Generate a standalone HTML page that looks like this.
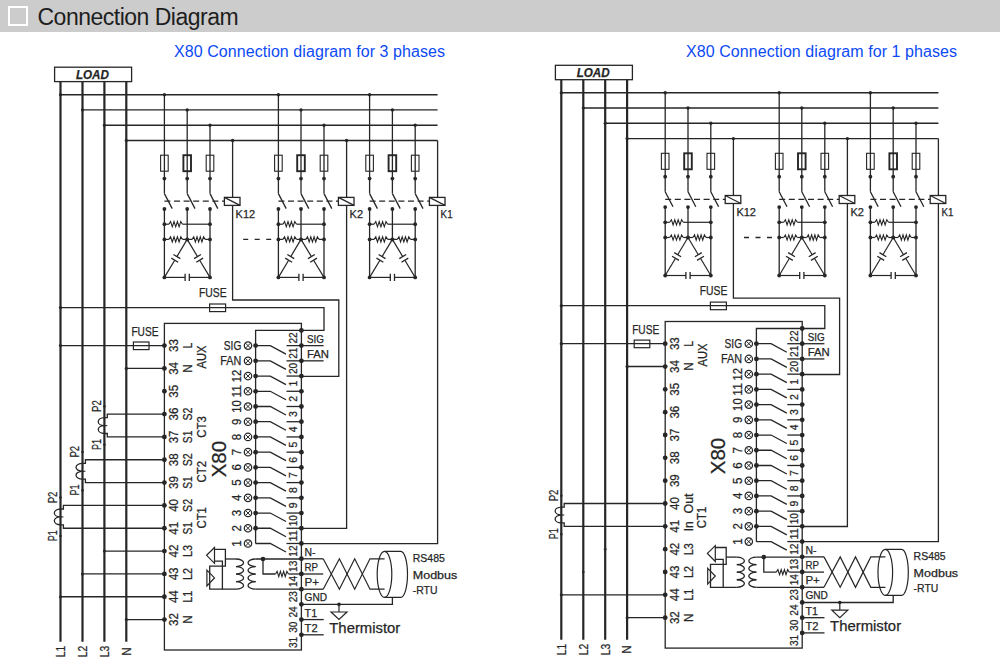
<!DOCTYPE html>
<html><head><meta charset="utf-8"><style>
html,body{margin:0;padding:0;background:#fff;width:1000px;height:670px;overflow:hidden}
.bar{position:absolute;left:0;top:0;width:1000px;height:32px;background:#cccccc;border-bottom:0}
.chk{position:absolute;left:8px;top:6px;width:16px;height:16px;border:2px solid #fff}
.ttl{position:absolute;left:37.5px;top:4px;font:23px "Liberation Sans",sans-serif;color:#1e1e1e;white-space:nowrap;letter-spacing:-0.5px}
.sub{position:absolute;top:43px;font:16px "Liberation Sans",sans-serif;color:#0d4af5;white-space:nowrap;letter-spacing:0.07px}
svg{position:absolute;left:0;top:0}
text{font-family:"Liberation Sans",sans-serif;stroke:#262626;stroke-width:0.25px}
</style></head><body>
<div class="bar"><div class="chk"></div><div class="ttl">Connection Diagram</div></div>
<div class="sub" style="left:174px">X80 Connection diagram for 3 phases</div>
<div class="sub" style="left:686px">X80 Connection diagram for 1 phases</div>
<svg width="1000" height="670" viewBox="0 0 1000 670">
<rect x="54.6" y="67.2" width="77" height="14.4" fill="none" stroke="#262626" stroke-width="1.3"/>
<text x="92.4" y="78.6" font-size="12" text-anchor="middle" textLength="33" lengthAdjust="spacingAndGlyphs" font-weight="bold" font-style="italic" fill="#262626">LOAD</text>
<line x1="60.5" y1="81.6" x2="60.5" y2="641.7" stroke="#262626" stroke-width="2.2"/>
<line x1="82.5" y1="81.6" x2="82.5" y2="641.7" stroke="#262626" stroke-width="2.2"/>
<line x1="104.4" y1="81.6" x2="104.4" y2="641.7" stroke="#262626" stroke-width="2.2"/>
<line x1="126.3" y1="81.6" x2="126.3" y2="641.7" stroke="#262626" stroke-width="2.2"/>
<line x1="60.5" y1="94.7" x2="437.6" y2="94.7" stroke="#262626" stroke-width="1.4"/>
<circle cx="60.5" cy="94.7" r="1.6" fill="#262626"/>
<line x1="82.5" y1="109.9" x2="437.6" y2="109.9" stroke="#262626" stroke-width="1.4"/>
<circle cx="82.5" cy="109.9" r="1.6" fill="#262626"/>
<line x1="104.4" y1="125.2" x2="437.6" y2="125.2" stroke="#262626" stroke-width="1.4"/>
<circle cx="104.4" cy="125.2" r="1.6" fill="#262626"/>
<line x1="126.3" y1="140.5" x2="437.6" y2="140.5" stroke="#262626" stroke-width="1.4"/>
<circle cx="126.3" cy="140.5" r="1.6" fill="#262626"/>
<line x1="437.6" y1="140.5" x2="437.6" y2="197.4" stroke="#262626" stroke-width="1.3"/>
<line x1="164.4" y1="94.7" x2="164.4" y2="171.2" stroke="#262626" stroke-width="1.3"/>
<circle cx="164.4" cy="94.7" r="1.7" fill="#262626"/>
<rect x="160.6" y="155.2" width="7.6" height="16" fill="none" stroke="#262626" stroke-width="1.1"/>
<line x1="164.4" y1="171.2" x2="164.4" y2="193.6" stroke="#262626" stroke-width="1.3"/>
<circle cx="164.4" cy="178.6" r="1.9" fill="#262626"/>
<line x1="164.4" y1="193.6" x2="172.2" y2="208.6" stroke="#262626" stroke-width="1.3"/>
<circle cx="164.4" cy="209" r="1.9" fill="#262626"/>
<line x1="187.2" y1="109.9" x2="187.2" y2="171.2" stroke="#262626" stroke-width="1.3"/>
<circle cx="187.2" cy="109.9" r="1.7" fill="#262626"/>
<rect x="183.4" y="155.2" width="7.6" height="16" fill="none" stroke="#262626" stroke-width="1.9"/>
<line x1="187.2" y1="171.2" x2="187.2" y2="193.6" stroke="#262626" stroke-width="1.3"/>
<circle cx="187.2" cy="178.6" r="1.9" fill="#262626"/>
<line x1="187.2" y1="193.6" x2="195" y2="208.6" stroke="#262626" stroke-width="1.3"/>
<circle cx="187.2" cy="209" r="1.9" fill="#262626"/>
<line x1="210" y1="125.2" x2="210" y2="171.2" stroke="#262626" stroke-width="1.3"/>
<circle cx="210" cy="125.2" r="1.7" fill="#262626"/>
<rect x="206.2" y="155.2" width="7.6" height="16" fill="none" stroke="#262626" stroke-width="1.1"/>
<line x1="210" y1="171.2" x2="210" y2="193.6" stroke="#262626" stroke-width="1.3"/>
<circle cx="210" cy="178.6" r="1.9" fill="#262626"/>
<line x1="210" y1="193.6" x2="217.8" y2="208.6" stroke="#262626" stroke-width="1.3"/>
<circle cx="210" cy="209" r="1.9" fill="#262626"/>
<circle cx="232.6" cy="140.5" r="1.7" fill="#262626"/>
<line x1="232.6" y1="140.5" x2="232.6" y2="197.4" stroke="#262626" stroke-width="1.3"/>
<line x1="164.4" y1="201.2" x2="224.4" y2="201.2" stroke="#262626" stroke-width="1.3" stroke-dasharray="6,3.6"/>
<rect x="224.4" y="197.4" width="15.6" height="8" fill="none" stroke="#262626" stroke-width="1.3"/>
<line x1="224.4" y1="197.4" x2="240" y2="205.4" stroke="#262626" stroke-width="1.2"/>
<text x="235.6" y="217.6" font-size="11" textLength="19.6" lengthAdjust="spacingAndGlyphs" fill="#262626">K12</text>
<line x1="164.4" y1="209" x2="164.4" y2="277.4" stroke="#262626" stroke-width="1.3"/>
<line x1="210" y1="209" x2="210" y2="277.4" stroke="#262626" stroke-width="1.3"/>
<line x1="187.2" y1="209" x2="187.2" y2="239.4" stroke="#262626" stroke-width="1.3"/>
<line x1="164.4" y1="224.2" x2="168.9" y2="224.2" stroke="#262626" stroke-width="1.2"/>
<polyline points="168.9,224.2 170.6,221.6 172.3,226.8 174,221.6 175.7,226.8 177.4,221.6 179.1,226.8 180.8,221.6 182.5,224.2" fill="none" stroke="#262626" stroke-width="1.1"/>
<line x1="182.5" y1="224.2" x2="210" y2="224.2" stroke="#262626" stroke-width="1.2"/>
<circle cx="164.4" cy="224.2" r="1.9" fill="#262626"/>
<circle cx="210" cy="224.2" r="1.9" fill="#262626"/>
<line x1="164.4" y1="239.4" x2="168.9" y2="239.4" stroke="#262626" stroke-width="1.2"/>
<polyline points="168.9,239.4 170.6,236.8 172.3,242 174,236.8 175.7,242 177.4,236.8 179.1,242 180.8,236.8 182.5,239.4" fill="none" stroke="#262626" stroke-width="1.1"/>
<line x1="182.5" y1="239.4" x2="192.1" y2="239.4" stroke="#262626" stroke-width="1.2"/>
<polyline points="192.1,239.4 193.74,236.8 195.38,242 197.01,236.8 198.65,242 200.29,236.8 201.92,242 203.56,236.8 205.2,239.4" fill="none" stroke="#262626" stroke-width="1.1"/>
<line x1="205.2" y1="239.4" x2="210" y2="239.4" stroke="#262626" stroke-width="1.2"/>
<circle cx="164.4" cy="239.4" r="1.9" fill="#262626"/>
<circle cx="187.2" cy="239.4" r="2" fill="#262626"/>
<circle cx="210" cy="239.4" r="1.9" fill="#262626"/>
<line x1="187.2" y1="239.4" x2="176.88" y2="256.6" stroke="#262626" stroke-width="1.2"/>
<line x1="174.72" y1="260.2" x2="164.4" y2="277.4" stroke="#262626" stroke-width="1.2"/>
<line x1="180.31" y1="258.66" x2="173.45" y2="254.54" stroke="#262626" stroke-width="1.3"/>
<line x1="178.15" y1="262.26" x2="171.29" y2="258.14" stroke="#262626" stroke-width="1.3"/>
<line x1="187.2" y1="239.4" x2="197.52" y2="256.6" stroke="#262626" stroke-width="1.2"/>
<line x1="199.68" y1="260.2" x2="210" y2="277.4" stroke="#262626" stroke-width="1.2"/>
<line x1="200.95" y1="254.54" x2="194.09" y2="258.66" stroke="#262626" stroke-width="1.3"/>
<line x1="203.11" y1="258.14" x2="196.25" y2="262.26" stroke="#262626" stroke-width="1.3"/>
<line x1="164.4" y1="277.4" x2="185.1" y2="277.4" stroke="#262626" stroke-width="1.2"/>
<line x1="189.3" y1="277.4" x2="210" y2="277.4" stroke="#262626" stroke-width="1.2"/>
<line x1="185.1" y1="273.8" x2="185.1" y2="281" stroke="#262626" stroke-width="1.3"/>
<line x1="189.3" y1="273.8" x2="189.3" y2="281" stroke="#262626" stroke-width="1.3"/>
<circle cx="164.4" cy="277.4" r="1.9" fill="#262626"/>
<circle cx="210" cy="277.4" r="1.9" fill="#262626"/>
<line x1="278.4" y1="94.7" x2="278.4" y2="171.2" stroke="#262626" stroke-width="1.3"/>
<circle cx="278.4" cy="94.7" r="1.7" fill="#262626"/>
<rect x="274.6" y="155.2" width="7.6" height="16" fill="none" stroke="#262626" stroke-width="1.1"/>
<line x1="278.4" y1="171.2" x2="278.4" y2="193.6" stroke="#262626" stroke-width="1.3"/>
<circle cx="278.4" cy="178.6" r="1.9" fill="#262626"/>
<line x1="278.4" y1="193.6" x2="286.2" y2="208.6" stroke="#262626" stroke-width="1.3"/>
<circle cx="278.4" cy="209" r="1.9" fill="#262626"/>
<line x1="301" y1="109.9" x2="301" y2="171.2" stroke="#262626" stroke-width="1.3"/>
<circle cx="301" cy="109.9" r="1.7" fill="#262626"/>
<rect x="297.2" y="155.2" width="7.6" height="16" fill="none" stroke="#262626" stroke-width="1.9"/>
<line x1="301" y1="171.2" x2="301" y2="193.6" stroke="#262626" stroke-width="1.3"/>
<circle cx="301" cy="178.6" r="1.9" fill="#262626"/>
<line x1="301" y1="193.6" x2="308.8" y2="208.6" stroke="#262626" stroke-width="1.3"/>
<circle cx="301" cy="209" r="1.9" fill="#262626"/>
<line x1="324" y1="125.2" x2="324" y2="171.2" stroke="#262626" stroke-width="1.3"/>
<circle cx="324" cy="125.2" r="1.7" fill="#262626"/>
<rect x="320.2" y="155.2" width="7.6" height="16" fill="none" stroke="#262626" stroke-width="1.1"/>
<line x1="324" y1="171.2" x2="324" y2="193.6" stroke="#262626" stroke-width="1.3"/>
<circle cx="324" cy="178.6" r="1.9" fill="#262626"/>
<line x1="324" y1="193.6" x2="331.8" y2="208.6" stroke="#262626" stroke-width="1.3"/>
<circle cx="324" cy="209" r="1.9" fill="#262626"/>
<circle cx="346.6" cy="140.5" r="1.7" fill="#262626"/>
<line x1="346.6" y1="140.5" x2="346.6" y2="197.4" stroke="#262626" stroke-width="1.3"/>
<line x1="278.4" y1="201.2" x2="338.4" y2="201.2" stroke="#262626" stroke-width="1.3" stroke-dasharray="6,3.6"/>
<rect x="338.4" y="197.4" width="15.6" height="8" fill="none" stroke="#262626" stroke-width="1.3"/>
<line x1="338.4" y1="197.4" x2="354" y2="205.4" stroke="#262626" stroke-width="1.2"/>
<text x="349.6" y="217.6" font-size="11" textLength="13.5" lengthAdjust="spacingAndGlyphs" fill="#262626">K2</text>
<line x1="278.4" y1="209" x2="278.4" y2="277.4" stroke="#262626" stroke-width="1.3"/>
<line x1="324" y1="209" x2="324" y2="277.4" stroke="#262626" stroke-width="1.3"/>
<line x1="301" y1="209" x2="301" y2="239.4" stroke="#262626" stroke-width="1.3"/>
<line x1="278.4" y1="224.2" x2="282.9" y2="224.2" stroke="#262626" stroke-width="1.2"/>
<polyline points="282.9,224.2 284.6,221.6 286.3,226.8 288,221.6 289.7,226.8 291.4,221.6 293.1,226.8 294.8,221.6 296.5,224.2" fill="none" stroke="#262626" stroke-width="1.1"/>
<line x1="296.5" y1="224.2" x2="324" y2="224.2" stroke="#262626" stroke-width="1.2"/>
<circle cx="278.4" cy="224.2" r="1.9" fill="#262626"/>
<circle cx="324" cy="224.2" r="1.9" fill="#262626"/>
<line x1="278.4" y1="239.4" x2="282.9" y2="239.4" stroke="#262626" stroke-width="1.2"/>
<polyline points="282.9,239.4 284.6,236.8 286.3,242 288,236.8 289.7,242 291.4,236.8 293.1,242 294.8,236.8 296.5,239.4" fill="none" stroke="#262626" stroke-width="1.1"/>
<line x1="296.5" y1="239.4" x2="305.9" y2="239.4" stroke="#262626" stroke-width="1.2"/>
<polyline points="305.9,239.4 307.54,236.8 309.17,242 310.81,236.8 312.45,242 314.09,236.8 315.73,242 317.36,236.8 319,239.4" fill="none" stroke="#262626" stroke-width="1.1"/>
<line x1="319" y1="239.4" x2="324" y2="239.4" stroke="#262626" stroke-width="1.2"/>
<circle cx="278.4" cy="239.4" r="1.9" fill="#262626"/>
<circle cx="301" cy="239.4" r="2" fill="#262626"/>
<circle cx="324" cy="239.4" r="1.9" fill="#262626"/>
<line x1="301" y1="239.4" x2="290.77" y2="256.6" stroke="#262626" stroke-width="1.2"/>
<line x1="288.63" y1="260.2" x2="278.4" y2="277.4" stroke="#262626" stroke-width="1.2"/>
<line x1="294.21" y1="258.64" x2="287.34" y2="254.55" stroke="#262626" stroke-width="1.3"/>
<line x1="292.06" y1="262.25" x2="285.19" y2="258.16" stroke="#262626" stroke-width="1.3"/>
<line x1="301" y1="239.4" x2="311.41" y2="256.6" stroke="#262626" stroke-width="1.2"/>
<line x1="313.59" y1="260.2" x2="324" y2="277.4" stroke="#262626" stroke-width="1.2"/>
<line x1="314.83" y1="254.53" x2="307.99" y2="258.67" stroke="#262626" stroke-width="1.3"/>
<line x1="317.01" y1="258.13" x2="310.17" y2="262.27" stroke="#262626" stroke-width="1.3"/>
<line x1="278.4" y1="277.4" x2="298.9" y2="277.4" stroke="#262626" stroke-width="1.2"/>
<line x1="303.1" y1="277.4" x2="324" y2="277.4" stroke="#262626" stroke-width="1.2"/>
<line x1="298.9" y1="273.8" x2="298.9" y2="281" stroke="#262626" stroke-width="1.3"/>
<line x1="303.1" y1="273.8" x2="303.1" y2="281" stroke="#262626" stroke-width="1.3"/>
<circle cx="278.4" cy="277.4" r="1.9" fill="#262626"/>
<circle cx="324" cy="277.4" r="1.9" fill="#262626"/>
<line x1="369.6" y1="94.7" x2="369.6" y2="171.2" stroke="#262626" stroke-width="1.3"/>
<circle cx="369.6" cy="94.7" r="1.7" fill="#262626"/>
<rect x="365.8" y="155.2" width="7.6" height="16" fill="none" stroke="#262626" stroke-width="1.1"/>
<line x1="369.6" y1="171.2" x2="369.6" y2="193.6" stroke="#262626" stroke-width="1.3"/>
<circle cx="369.6" cy="178.6" r="1.9" fill="#262626"/>
<line x1="369.6" y1="193.6" x2="377.4" y2="208.6" stroke="#262626" stroke-width="1.3"/>
<circle cx="369.6" cy="209" r="1.9" fill="#262626"/>
<line x1="392.4" y1="109.9" x2="392.4" y2="171.2" stroke="#262626" stroke-width="1.3"/>
<circle cx="392.4" cy="109.9" r="1.7" fill="#262626"/>
<rect x="388.6" y="155.2" width="7.6" height="16" fill="none" stroke="#262626" stroke-width="1.9"/>
<line x1="392.4" y1="171.2" x2="392.4" y2="193.6" stroke="#262626" stroke-width="1.3"/>
<circle cx="392.4" cy="178.6" r="1.9" fill="#262626"/>
<line x1="392.4" y1="193.6" x2="400.2" y2="208.6" stroke="#262626" stroke-width="1.3"/>
<circle cx="392.4" cy="209" r="1.9" fill="#262626"/>
<line x1="415.2" y1="125.2" x2="415.2" y2="171.2" stroke="#262626" stroke-width="1.3"/>
<circle cx="415.2" cy="125.2" r="1.7" fill="#262626"/>
<rect x="411.4" y="155.2" width="7.6" height="16" fill="none" stroke="#262626" stroke-width="1.1"/>
<line x1="415.2" y1="171.2" x2="415.2" y2="193.6" stroke="#262626" stroke-width="1.3"/>
<circle cx="415.2" cy="178.6" r="1.9" fill="#262626"/>
<line x1="415.2" y1="193.6" x2="423" y2="208.6" stroke="#262626" stroke-width="1.3"/>
<circle cx="415.2" cy="209" r="1.9" fill="#262626"/>
<line x1="369.6" y1="201.2" x2="429.4" y2="201.2" stroke="#262626" stroke-width="1.3" stroke-dasharray="6,3.6"/>
<rect x="429.4" y="197.4" width="15.6" height="8" fill="none" stroke="#262626" stroke-width="1.3"/>
<line x1="429.4" y1="197.4" x2="445" y2="205.4" stroke="#262626" stroke-width="1.2"/>
<text x="440.6" y="217.6" font-size="11" textLength="12" lengthAdjust="spacingAndGlyphs" fill="#262626">K1</text>
<line x1="369.6" y1="209" x2="369.6" y2="277.4" stroke="#262626" stroke-width="1.3"/>
<line x1="415.2" y1="209" x2="415.2" y2="277.4" stroke="#262626" stroke-width="1.3"/>
<line x1="392.4" y1="209" x2="392.4" y2="239.4" stroke="#262626" stroke-width="1.3"/>
<line x1="369.6" y1="224.2" x2="374.1" y2="224.2" stroke="#262626" stroke-width="1.2"/>
<polyline points="374.1,224.2 375.8,221.6 377.5,226.8 379.2,221.6 380.9,226.8 382.6,221.6 384.3,226.8 386,221.6 387.7,224.2" fill="none" stroke="#262626" stroke-width="1.1"/>
<line x1="387.7" y1="224.2" x2="415.2" y2="224.2" stroke="#262626" stroke-width="1.2"/>
<circle cx="369.6" cy="224.2" r="1.9" fill="#262626"/>
<circle cx="415.2" cy="224.2" r="1.9" fill="#262626"/>
<line x1="369.6" y1="239.4" x2="374.1" y2="239.4" stroke="#262626" stroke-width="1.2"/>
<polyline points="374.1,239.4 375.8,236.8 377.5,242 379.2,236.8 380.9,242 382.6,236.8 384.3,242 386,236.8 387.7,239.4" fill="none" stroke="#262626" stroke-width="1.1"/>
<line x1="387.7" y1="239.4" x2="397.3" y2="239.4" stroke="#262626" stroke-width="1.2"/>
<polyline points="397.3,239.4 398.94,236.8 400.57,242 402.21,236.8 403.85,242 405.49,236.8 407.12,242 408.76,236.8 410.4,239.4" fill="none" stroke="#262626" stroke-width="1.1"/>
<line x1="410.4" y1="239.4" x2="415.2" y2="239.4" stroke="#262626" stroke-width="1.2"/>
<circle cx="369.6" cy="239.4" r="1.9" fill="#262626"/>
<circle cx="392.4" cy="239.4" r="2" fill="#262626"/>
<circle cx="415.2" cy="239.4" r="1.9" fill="#262626"/>
<line x1="392.4" y1="239.4" x2="382.08" y2="256.6" stroke="#262626" stroke-width="1.2"/>
<line x1="379.92" y1="260.2" x2="369.6" y2="277.4" stroke="#262626" stroke-width="1.2"/>
<line x1="385.51" y1="258.66" x2="378.65" y2="254.54" stroke="#262626" stroke-width="1.3"/>
<line x1="383.35" y1="262.26" x2="376.49" y2="258.14" stroke="#262626" stroke-width="1.3"/>
<line x1="392.4" y1="239.4" x2="402.72" y2="256.6" stroke="#262626" stroke-width="1.2"/>
<line x1="404.88" y1="260.2" x2="415.2" y2="277.4" stroke="#262626" stroke-width="1.2"/>
<line x1="406.15" y1="254.54" x2="399.29" y2="258.66" stroke="#262626" stroke-width="1.3"/>
<line x1="408.31" y1="258.14" x2="401.45" y2="262.26" stroke="#262626" stroke-width="1.3"/>
<line x1="369.6" y1="277.4" x2="390.3" y2="277.4" stroke="#262626" stroke-width="1.2"/>
<line x1="394.5" y1="277.4" x2="415.2" y2="277.4" stroke="#262626" stroke-width="1.2"/>
<line x1="390.3" y1="273.8" x2="390.3" y2="281" stroke="#262626" stroke-width="1.3"/>
<line x1="394.5" y1="273.8" x2="394.5" y2="281" stroke="#262626" stroke-width="1.3"/>
<circle cx="369.6" cy="277.4" r="1.9" fill="#262626"/>
<circle cx="415.2" cy="277.4" r="1.9" fill="#262626"/>
<line x1="243.2" y1="239.4" x2="271.2" y2="239.4" stroke="#262626" stroke-width="1.3" stroke-dasharray="5,6.5"/>
<polyline points="232.6,205.4 232.6,300 338.8,300 338.8,376.4 301.4,376.4" fill="none" stroke="#262626" stroke-width="1.3"/>
<polyline points="346.6,205.4 346.6,528.4 301.4,528.4" fill="none" stroke="#262626" stroke-width="1.3"/>
<polyline points="437.6,205.4 437.6,543.6 301.4,543.6" fill="none" stroke="#262626" stroke-width="1.3"/>
<polyline points="60.5,307.6 324,307.6 324,330.4 255.6,330.4 255.6,543.6" fill="none" stroke="#262626" stroke-width="1.3"/>
<circle cx="60.5" cy="307.6" r="1.6" fill="#262626"/>
<rect x="209.6" y="304" width="16" height="7.6" fill="none" stroke="#262626" stroke-width="1.2"/>
<text x="199" y="296.6" font-size="12" textLength="27.6" lengthAdjust="spacingAndGlyphs" fill="#262626">FUSE</text>
<line x1="60.5" y1="345.6" x2="164.4" y2="345.6" stroke="#262626" stroke-width="1.3"/>
<circle cx="60.5" cy="345.6" r="1.6" fill="#262626"/>
<rect x="133.4" y="342" width="15.6" height="7.6" fill="none" stroke="#262626" stroke-width="1.2"/>
<text x="131.4" y="335.6" font-size="12" textLength="27" lengthAdjust="spacingAndGlyphs" fill="#262626">FUSE</text>
<line x1="126.3" y1="368.4" x2="164.4" y2="368.4" stroke="#262626" stroke-width="1.3"/>
<circle cx="126.3" cy="368.4" r="1.6" fill="#262626"/>
<rect x="164.4" y="323.4" width="137" height="326.6" fill="none" stroke="#262626" stroke-width="1.3"/>
<circle cx="164.4" cy="345.6" r="2.4" fill="#262626"/>
<text transform="translate(173.9,345.6) rotate(-90)" x="0" y="4.32" font-size="12" text-anchor="middle" textLength="12.8" lengthAdjust="spacingAndGlyphs" fill="#262626">33</text>
<circle cx="164.4" cy="368.43" r="2.4" fill="#262626"/>
<text transform="translate(173.9,368.43) rotate(-90)" x="0" y="4.32" font-size="12" text-anchor="middle" textLength="12.8" lengthAdjust="spacingAndGlyphs" fill="#262626">34</text>
<circle cx="164.4" cy="391.26" r="2.4" fill="#262626"/>
<text transform="translate(173.9,391.26) rotate(-90)" x="0" y="4.32" font-size="12" text-anchor="middle" textLength="12.8" lengthAdjust="spacingAndGlyphs" fill="#262626">35</text>
<circle cx="164.4" cy="414.09" r="2.4" fill="#262626"/>
<text transform="translate(173.9,414.09) rotate(-90)" x="0" y="4.32" font-size="12" text-anchor="middle" textLength="12.8" lengthAdjust="spacingAndGlyphs" fill="#262626">36</text>
<circle cx="164.4" cy="436.92" r="2.4" fill="#262626"/>
<text transform="translate(173.9,436.92) rotate(-90)" x="0" y="4.32" font-size="12" text-anchor="middle" textLength="12.8" lengthAdjust="spacingAndGlyphs" fill="#262626">37</text>
<circle cx="164.4" cy="459.75" r="2.4" fill="#262626"/>
<text transform="translate(173.9,459.75) rotate(-90)" x="0" y="4.32" font-size="12" text-anchor="middle" textLength="12.8" lengthAdjust="spacingAndGlyphs" fill="#262626">38</text>
<circle cx="164.4" cy="482.58" r="2.4" fill="#262626"/>
<text transform="translate(173.9,482.58) rotate(-90)" x="0" y="4.32" font-size="12" text-anchor="middle" textLength="12.8" lengthAdjust="spacingAndGlyphs" fill="#262626">39</text>
<circle cx="164.4" cy="505.41" r="2.4" fill="#262626"/>
<text transform="translate(173.9,505.41) rotate(-90)" x="0" y="4.32" font-size="12" text-anchor="middle" textLength="12.8" lengthAdjust="spacingAndGlyphs" fill="#262626">40</text>
<circle cx="164.4" cy="528.24" r="2.4" fill="#262626"/>
<text transform="translate(173.9,528.24) rotate(-90)" x="0" y="4.32" font-size="12" text-anchor="middle" textLength="12.8" lengthAdjust="spacingAndGlyphs" fill="#262626">41</text>
<circle cx="164.4" cy="551.07" r="2.4" fill="#262626"/>
<text transform="translate(173.9,551.07) rotate(-90)" x="0" y="4.32" font-size="12" text-anchor="middle" textLength="12.8" lengthAdjust="spacingAndGlyphs" fill="#262626">42</text>
<circle cx="164.4" cy="573.9" r="2.4" fill="#262626"/>
<text transform="translate(173.9,573.9) rotate(-90)" x="0" y="4.32" font-size="12" text-anchor="middle" textLength="12.8" lengthAdjust="spacingAndGlyphs" fill="#262626">43</text>
<circle cx="164.4" cy="596.73" r="2.4" fill="#262626"/>
<text transform="translate(173.9,596.73) rotate(-90)" x="0" y="4.32" font-size="12" text-anchor="middle" textLength="12.8" lengthAdjust="spacingAndGlyphs" fill="#262626">44</text>
<circle cx="164.4" cy="619.56" r="2.4" fill="#262626"/>
<text transform="translate(173.9,619.56) rotate(-90)" x="0" y="4.32" font-size="12" text-anchor="middle" textLength="12.8" lengthAdjust="spacingAndGlyphs" fill="#262626">32</text>
<text transform="translate(188,345.6) rotate(-90)" x="0" y="4.32" font-size="12" text-anchor="middle" textLength="5.5" lengthAdjust="spacingAndGlyphs" fill="#262626">L</text>
<text transform="translate(188,368.43) rotate(-90)" x="0" y="4.32" font-size="12" text-anchor="middle" textLength="8.5" lengthAdjust="spacingAndGlyphs" fill="#262626">N</text>
<text transform="translate(188,414.09) rotate(-90)" x="0" y="4.32" font-size="12" text-anchor="middle" textLength="13" lengthAdjust="spacingAndGlyphs" fill="#262626">S2</text>
<text transform="translate(188,436.92) rotate(-90)" x="0" y="4.32" font-size="12" text-anchor="middle" textLength="12.5" lengthAdjust="spacingAndGlyphs" fill="#262626">S1</text>
<text transform="translate(188,459.75) rotate(-90)" x="0" y="4.32" font-size="12" text-anchor="middle" textLength="13" lengthAdjust="spacingAndGlyphs" fill="#262626">S2</text>
<text transform="translate(188,482.58) rotate(-90)" x="0" y="4.32" font-size="12" text-anchor="middle" textLength="12.5" lengthAdjust="spacingAndGlyphs" fill="#262626">S1</text>
<text transform="translate(188,505.41) rotate(-90)" x="0" y="4.32" font-size="12" text-anchor="middle" textLength="13" lengthAdjust="spacingAndGlyphs" fill="#262626">S2</text>
<text transform="translate(188,528.24) rotate(-90)" x="0" y="4.32" font-size="12" text-anchor="middle" textLength="12.5" lengthAdjust="spacingAndGlyphs" fill="#262626">S1</text>
<text transform="translate(188,551.07) rotate(-90)" x="0" y="4.32" font-size="12" text-anchor="middle" textLength="12" lengthAdjust="spacingAndGlyphs" fill="#262626">L3</text>
<text transform="translate(188,573.9) rotate(-90)" x="0" y="4.32" font-size="12" text-anchor="middle" textLength="12" lengthAdjust="spacingAndGlyphs" fill="#262626">L2</text>
<text transform="translate(188,596.73) rotate(-90)" x="0" y="4.32" font-size="12" text-anchor="middle" textLength="12" lengthAdjust="spacingAndGlyphs" fill="#262626">L1</text>
<text transform="translate(188,619.56) rotate(-90)" x="0" y="4.32" font-size="12" text-anchor="middle" textLength="8.5" lengthAdjust="spacingAndGlyphs" fill="#262626">N</text>
<text transform="translate(201.8,357.01) rotate(-90)" x="0" y="4.32" font-size="12" text-anchor="middle" textLength="22.8" lengthAdjust="spacingAndGlyphs" fill="#262626">AUX</text>
<text transform="translate(201.2,427) rotate(-90)" x="0" y="4.32" font-size="12" text-anchor="middle" textLength="21.5" lengthAdjust="spacingAndGlyphs" fill="#262626">CT3</text>
<text transform="translate(201.2,471.67) rotate(-90)" x="0" y="4.32" font-size="12" text-anchor="middle" textLength="21.5" lengthAdjust="spacingAndGlyphs" fill="#262626">CT2</text>
<text transform="translate(201.2,517.83) rotate(-90)" x="0" y="4.32" font-size="12" text-anchor="middle" textLength="21.5" lengthAdjust="spacingAndGlyphs" fill="#262626">CT1</text>
<text transform="translate(218.5,459.1) rotate(-90)" x="0" y="7.02" font-size="19.5" text-anchor="middle" textLength="36.5" lengthAdjust="spacingAndGlyphs" fill="#262626">X80</text>
<circle cx="104.4" cy="406.29" r="1.3" fill="#262626"/>
<circle cx="104.4" cy="444.72" r="1.3" fill="#262626"/>
<polyline points="164.4,414.09 107.3,414.09 107.3,417.69 104.4,417.69" fill="none" stroke="#262626" stroke-width="1.3"/>
<polyline points="164.4,436.92 107.3,436.92 107.3,433.52 104.4,433.52" fill="none" stroke="#262626" stroke-width="1.3"/>
<path d="M104.4,417.69 a6.5,3.96 0 0 0 0,7.91 a6.5,3.96 0 0 0 0,7.91" fill="none" stroke="#262626" stroke-width="1.3"/>
<line x1="104.4" y1="425.61" x2="107.3" y2="425.61" stroke="#262626" stroke-width="1.1"/>
<text transform="translate(96.4,406.09) rotate(-90)" x="0" y="4.32" font-size="12" text-anchor="middle" textLength="11.7" lengthAdjust="spacingAndGlyphs" fill="#262626">P2</text>
<text transform="translate(96.4,444.42) rotate(-90)" x="0" y="4.32" font-size="12" text-anchor="middle" textLength="11" lengthAdjust="spacingAndGlyphs" fill="#262626">P1</text>
<circle cx="82.5" cy="451.95" r="1.3" fill="#262626"/>
<circle cx="82.5" cy="490.38" r="1.3" fill="#262626"/>
<polyline points="164.4,459.75 85.4,459.75 85.4,463.35 82.5,463.35" fill="none" stroke="#262626" stroke-width="1.3"/>
<polyline points="164.4,482.58 85.4,482.58 85.4,479.18 82.5,479.18" fill="none" stroke="#262626" stroke-width="1.3"/>
<path d="M82.5,463.35 a6.5,3.96 0 0 0 0,7.92 a6.5,3.96 0 0 0 0,7.92" fill="none" stroke="#262626" stroke-width="1.3"/>
<line x1="82.5" y1="471.27" x2="85.4" y2="471.27" stroke="#262626" stroke-width="1.1"/>
<text transform="translate(74.5,451.75) rotate(-90)" x="0" y="4.32" font-size="12" text-anchor="middle" textLength="11.7" lengthAdjust="spacingAndGlyphs" fill="#262626">P2</text>
<text transform="translate(74.5,490.08) rotate(-90)" x="0" y="4.32" font-size="12" text-anchor="middle" textLength="11" lengthAdjust="spacingAndGlyphs" fill="#262626">P1</text>
<circle cx="60.5" cy="497.61" r="1.3" fill="#262626"/>
<circle cx="60.5" cy="536.04" r="1.3" fill="#262626"/>
<polyline points="164.4,505.41 63.4,505.41 63.4,509.01 60.5,509.01" fill="none" stroke="#262626" stroke-width="1.3"/>
<polyline points="164.4,528.24 63.4,528.24 63.4,524.84 60.5,524.84" fill="none" stroke="#262626" stroke-width="1.3"/>
<path d="M60.5,509.01 a6.5,3.96 0 0 0 0,7.91 a6.5,3.96 0 0 0 0,7.91" fill="none" stroke="#262626" stroke-width="1.3"/>
<line x1="60.5" y1="516.93" x2="63.4" y2="516.93" stroke="#262626" stroke-width="1.1"/>
<text transform="translate(52.5,497.41) rotate(-90)" x="0" y="4.32" font-size="12" text-anchor="middle" textLength="11.7" lengthAdjust="spacingAndGlyphs" fill="#262626">P2</text>
<text transform="translate(52.5,535.74) rotate(-90)" x="0" y="4.32" font-size="12" text-anchor="middle" textLength="11" lengthAdjust="spacingAndGlyphs" fill="#262626">P1</text>
<line x1="104.4" y1="551.07" x2="164.4" y2="551.07" stroke="#262626" stroke-width="1.3"/>
<circle cx="104.4" cy="551.07" r="1.5" fill="#262626"/>
<line x1="82.5" y1="573.9" x2="164.4" y2="573.9" stroke="#262626" stroke-width="1.3"/>
<circle cx="82.5" cy="573.9" r="1.5" fill="#262626"/>
<line x1="60.5" y1="596.73" x2="164.4" y2="596.73" stroke="#262626" stroke-width="1.3"/>
<circle cx="60.5" cy="596.73" r="1.5" fill="#262626"/>
<line x1="126.3" y1="619.56" x2="164.4" y2="619.56" stroke="#262626" stroke-width="1.3"/>
<circle cx="126.3" cy="619.56" r="1.5" fill="#262626"/>
<text transform="translate(60.5,651.5) rotate(-90)" x="0" y="4.32" font-size="12" text-anchor="middle" textLength="11.5" lengthAdjust="spacingAndGlyphs" fill="#262626">L1</text>
<text transform="translate(82.5,651.5) rotate(-90)" x="0" y="4.32" font-size="12" text-anchor="middle" textLength="11.5" lengthAdjust="spacingAndGlyphs" fill="#262626">L2</text>
<text transform="translate(104.4,651.5) rotate(-90)" x="0" y="4.32" font-size="12" text-anchor="middle" textLength="11.5" lengthAdjust="spacingAndGlyphs" fill="#262626">L3</text>
<text transform="translate(126.3,651.5) rotate(-90)" x="0" y="4.32" font-size="12" text-anchor="middle" textLength="8.5" lengthAdjust="spacingAndGlyphs" fill="#262626">N</text>
<text transform="translate(293.3,338.01) rotate(-90)" x="0" y="4.14" font-size="11.5" text-anchor="middle" textLength="11.2" lengthAdjust="spacingAndGlyphs" fill="#262626">22</text>
<text transform="translate(293.3,353.23) rotate(-90)" x="0" y="4.14" font-size="11.5" text-anchor="middle" textLength="11.2" lengthAdjust="spacingAndGlyphs" fill="#262626">21</text>
<text transform="translate(293.3,368.45) rotate(-90)" x="0" y="4.14" font-size="11.5" text-anchor="middle" textLength="11.2" lengthAdjust="spacingAndGlyphs" fill="#262626">20</text>
<text transform="translate(293.3,383.67) rotate(-90)" x="0" y="4.14" font-size="11.5" text-anchor="middle" textLength="5.8" lengthAdjust="spacingAndGlyphs" fill="#262626">1</text>
<text transform="translate(293.3,398.89) rotate(-90)" x="0" y="4.14" font-size="11.5" text-anchor="middle" textLength="5.8" lengthAdjust="spacingAndGlyphs" fill="#262626">2</text>
<text transform="translate(293.3,414.11) rotate(-90)" x="0" y="4.14" font-size="11.5" text-anchor="middle" textLength="5.8" lengthAdjust="spacingAndGlyphs" fill="#262626">3</text>
<text transform="translate(293.3,429.33) rotate(-90)" x="0" y="4.14" font-size="11.5" text-anchor="middle" textLength="5.8" lengthAdjust="spacingAndGlyphs" fill="#262626">4</text>
<text transform="translate(293.3,444.55) rotate(-90)" x="0" y="4.14" font-size="11.5" text-anchor="middle" textLength="5.8" lengthAdjust="spacingAndGlyphs" fill="#262626">5</text>
<text transform="translate(293.3,459.77) rotate(-90)" x="0" y="4.14" font-size="11.5" text-anchor="middle" textLength="5.8" lengthAdjust="spacingAndGlyphs" fill="#262626">6</text>
<text transform="translate(293.3,474.99) rotate(-90)" x="0" y="4.14" font-size="11.5" text-anchor="middle" textLength="5.8" lengthAdjust="spacingAndGlyphs" fill="#262626">7</text>
<text transform="translate(293.3,490.21) rotate(-90)" x="0" y="4.14" font-size="11.5" text-anchor="middle" textLength="5.8" lengthAdjust="spacingAndGlyphs" fill="#262626">8</text>
<text transform="translate(293.3,505.43) rotate(-90)" x="0" y="4.14" font-size="11.5" text-anchor="middle" textLength="5.8" lengthAdjust="spacingAndGlyphs" fill="#262626">9</text>
<text transform="translate(293.3,520.65) rotate(-90)" x="0" y="4.14" font-size="11.5" text-anchor="middle" textLength="11.2" lengthAdjust="spacingAndGlyphs" fill="#262626">10</text>
<text transform="translate(293.3,535.87) rotate(-90)" x="0" y="4.14" font-size="11.5" text-anchor="middle" textLength="11.2" lengthAdjust="spacingAndGlyphs" fill="#262626">11</text>
<text transform="translate(293.3,551.09) rotate(-90)" x="0" y="4.14" font-size="11.5" text-anchor="middle" textLength="11.2" lengthAdjust="spacingAndGlyphs" fill="#262626">12</text>
<text transform="translate(293.3,566.31) rotate(-90)" x="0" y="4.14" font-size="11.5" text-anchor="middle" textLength="11.2" lengthAdjust="spacingAndGlyphs" fill="#262626">13</text>
<text transform="translate(293.3,581.53) rotate(-90)" x="0" y="4.14" font-size="11.5" text-anchor="middle" textLength="11.2" lengthAdjust="spacingAndGlyphs" fill="#262626">14</text>
<text transform="translate(293.3,596.75) rotate(-90)" x="0" y="4.14" font-size="11.5" text-anchor="middle" textLength="11.2" lengthAdjust="spacingAndGlyphs" fill="#262626">23</text>
<text transform="translate(293.3,611.97) rotate(-90)" x="0" y="4.14" font-size="11.5" text-anchor="middle" textLength="11.2" lengthAdjust="spacingAndGlyphs" fill="#262626">24</text>
<text transform="translate(293.3,627.19) rotate(-90)" x="0" y="4.14" font-size="11.5" text-anchor="middle" textLength="11.2" lengthAdjust="spacingAndGlyphs" fill="#262626">30</text>
<text transform="translate(293.3,642.41) rotate(-90)" x="0" y="4.14" font-size="11.5" text-anchor="middle" textLength="11.2" lengthAdjust="spacingAndGlyphs" fill="#262626">31</text>
<circle cx="301.4" cy="330.4" r="2.4" fill="#262626"/>
<circle cx="301.4" cy="345.62" r="2.4" fill="#262626"/>
<circle cx="301.4" cy="360.84" r="2.4" fill="#262626"/>
<circle cx="301.4" cy="376.06" r="2.4" fill="#262626"/>
<circle cx="301.4" cy="391.28" r="2.4" fill="#262626"/>
<circle cx="301.4" cy="406.5" r="2.4" fill="#262626"/>
<circle cx="301.4" cy="421.72" r="2.4" fill="#262626"/>
<circle cx="301.4" cy="436.94" r="2.4" fill="#262626"/>
<circle cx="301.4" cy="452.16" r="2.4" fill="#262626"/>
<circle cx="301.4" cy="467.38" r="2.4" fill="#262626"/>
<circle cx="301.4" cy="482.6" r="2.4" fill="#262626"/>
<circle cx="301.4" cy="497.82" r="2.4" fill="#262626"/>
<circle cx="301.4" cy="513.04" r="2.4" fill="#262626"/>
<circle cx="301.4" cy="528.26" r="2.4" fill="#262626"/>
<circle cx="301.4" cy="543.48" r="2.4" fill="#262626"/>
<circle cx="301.4" cy="558.7" r="2.4" fill="#262626"/>
<circle cx="301.4" cy="573.92" r="2.4" fill="#262626"/>
<circle cx="301.4" cy="589.14" r="2.4" fill="#262626"/>
<circle cx="301.4" cy="604.36" r="2.4" fill="#262626"/>
<circle cx="301.4" cy="619.58" r="2.4" fill="#262626"/>
<circle cx="301.4" cy="634.8" r="2.4" fill="#262626"/>
<circle cx="248" cy="345.62" r="3.7" fill="none" stroke="#262626" stroke-width="1.25"/>
<line x1="245.41" y1="343.03" x2="250.59" y2="348.21" stroke="#262626" stroke-width="1"/>
<line x1="245.41" y1="348.21" x2="250.59" y2="343.03" stroke="#262626" stroke-width="1"/>
<circle cx="255.6" cy="345.62" r="2.4" fill="#262626"/>
<polyline points="255.6,345.62 270.3,345.62 286,354.12" fill="none" stroke="#262626" stroke-width="1.3"/>
<line x1="286.5" y1="345.62" x2="301.4" y2="345.62" stroke="#262626" stroke-width="1.3"/>
<text x="241.3" y="350.12" font-size="12" text-anchor="end" textLength="17.5" lengthAdjust="spacingAndGlyphs" fill="#262626">SIG</text>
<circle cx="248" cy="360.84" r="3.7" fill="none" stroke="#262626" stroke-width="1.25"/>
<line x1="245.41" y1="358.25" x2="250.59" y2="363.43" stroke="#262626" stroke-width="1"/>
<line x1="245.41" y1="363.43" x2="250.59" y2="358.25" stroke="#262626" stroke-width="1"/>
<circle cx="255.6" cy="360.84" r="2.4" fill="#262626"/>
<polyline points="255.6,360.84 270.3,360.84 286,369.34" fill="none" stroke="#262626" stroke-width="1.3"/>
<line x1="286.5" y1="360.84" x2="301.4" y2="360.84" stroke="#262626" stroke-width="1.3"/>
<text x="241.3" y="365.34" font-size="12" text-anchor="end" textLength="21" lengthAdjust="spacingAndGlyphs" fill="#262626">FAN</text>
<circle cx="248" cy="376.06" r="3.7" fill="none" stroke="#262626" stroke-width="1.25"/>
<line x1="245.41" y1="373.47" x2="250.59" y2="378.65" stroke="#262626" stroke-width="1"/>
<line x1="245.41" y1="378.65" x2="250.59" y2="373.47" stroke="#262626" stroke-width="1"/>
<circle cx="255.6" cy="376.06" r="2.4" fill="#262626"/>
<polyline points="255.6,376.06 270.3,376.06 286,384.56" fill="none" stroke="#262626" stroke-width="1.3"/>
<line x1="286.5" y1="376.06" x2="301.4" y2="376.06" stroke="#262626" stroke-width="1.3"/>
<text transform="translate(236.8,376.06) rotate(-90)" x="0" y="4.32" font-size="12" text-anchor="middle" textLength="12.6" lengthAdjust="spacingAndGlyphs" fill="#262626">12</text>
<circle cx="248" cy="391.28" r="3.7" fill="none" stroke="#262626" stroke-width="1.25"/>
<line x1="245.41" y1="388.69" x2="250.59" y2="393.87" stroke="#262626" stroke-width="1"/>
<line x1="245.41" y1="393.87" x2="250.59" y2="388.69" stroke="#262626" stroke-width="1"/>
<circle cx="255.6" cy="391.28" r="2.4" fill="#262626"/>
<polyline points="255.6,391.28 270.3,391.28 286,399.78" fill="none" stroke="#262626" stroke-width="1.3"/>
<line x1="286.5" y1="391.28" x2="301.4" y2="391.28" stroke="#262626" stroke-width="1.3"/>
<text transform="translate(236.8,391.28) rotate(-90)" x="0" y="4.32" font-size="12" text-anchor="middle" textLength="12.6" lengthAdjust="spacingAndGlyphs" fill="#262626">11</text>
<circle cx="248" cy="406.5" r="3.7" fill="none" stroke="#262626" stroke-width="1.25"/>
<line x1="245.41" y1="403.91" x2="250.59" y2="409.09" stroke="#262626" stroke-width="1"/>
<line x1="245.41" y1="409.09" x2="250.59" y2="403.91" stroke="#262626" stroke-width="1"/>
<circle cx="255.6" cy="406.5" r="2.4" fill="#262626"/>
<polyline points="255.6,406.5 270.3,406.5 286,415" fill="none" stroke="#262626" stroke-width="1.3"/>
<line x1="286.5" y1="406.5" x2="301.4" y2="406.5" stroke="#262626" stroke-width="1.3"/>
<text transform="translate(236.8,406.5) rotate(-90)" x="0" y="4.32" font-size="12" text-anchor="middle" textLength="12.6" lengthAdjust="spacingAndGlyphs" fill="#262626">10</text>
<circle cx="248" cy="421.72" r="3.7" fill="none" stroke="#262626" stroke-width="1.25"/>
<line x1="245.41" y1="419.13" x2="250.59" y2="424.31" stroke="#262626" stroke-width="1"/>
<line x1="245.41" y1="424.31" x2="250.59" y2="419.13" stroke="#262626" stroke-width="1"/>
<circle cx="255.6" cy="421.72" r="2.4" fill="#262626"/>
<polyline points="255.6,421.72 270.3,421.72 286,430.22" fill="none" stroke="#262626" stroke-width="1.3"/>
<line x1="286.5" y1="421.72" x2="301.4" y2="421.72" stroke="#262626" stroke-width="1.3"/>
<text transform="translate(236.8,421.72) rotate(-90)" x="0" y="4.32" font-size="12" text-anchor="middle" textLength="6.4" lengthAdjust="spacingAndGlyphs" fill="#262626">9</text>
<circle cx="248" cy="436.94" r="3.7" fill="none" stroke="#262626" stroke-width="1.25"/>
<line x1="245.41" y1="434.35" x2="250.59" y2="439.53" stroke="#262626" stroke-width="1"/>
<line x1="245.41" y1="439.53" x2="250.59" y2="434.35" stroke="#262626" stroke-width="1"/>
<circle cx="255.6" cy="436.94" r="2.4" fill="#262626"/>
<polyline points="255.6,436.94 270.3,436.94 286,445.44" fill="none" stroke="#262626" stroke-width="1.3"/>
<line x1="286.5" y1="436.94" x2="301.4" y2="436.94" stroke="#262626" stroke-width="1.3"/>
<text transform="translate(236.8,436.94) rotate(-90)" x="0" y="4.32" font-size="12" text-anchor="middle" textLength="6.4" lengthAdjust="spacingAndGlyphs" fill="#262626">8</text>
<circle cx="248" cy="452.16" r="3.7" fill="none" stroke="#262626" stroke-width="1.25"/>
<line x1="245.41" y1="449.57" x2="250.59" y2="454.75" stroke="#262626" stroke-width="1"/>
<line x1="245.41" y1="454.75" x2="250.59" y2="449.57" stroke="#262626" stroke-width="1"/>
<circle cx="255.6" cy="452.16" r="2.4" fill="#262626"/>
<polyline points="255.6,452.16 270.3,452.16 286,460.66" fill="none" stroke="#262626" stroke-width="1.3"/>
<line x1="286.5" y1="452.16" x2="301.4" y2="452.16" stroke="#262626" stroke-width="1.3"/>
<text transform="translate(236.8,452.16) rotate(-90)" x="0" y="4.32" font-size="12" text-anchor="middle" textLength="6.4" lengthAdjust="spacingAndGlyphs" fill="#262626">7</text>
<circle cx="248" cy="467.38" r="3.7" fill="none" stroke="#262626" stroke-width="1.25"/>
<line x1="245.41" y1="464.79" x2="250.59" y2="469.97" stroke="#262626" stroke-width="1"/>
<line x1="245.41" y1="469.97" x2="250.59" y2="464.79" stroke="#262626" stroke-width="1"/>
<circle cx="255.6" cy="467.38" r="2.4" fill="#262626"/>
<polyline points="255.6,467.38 270.3,467.38 286,475.88" fill="none" stroke="#262626" stroke-width="1.3"/>
<line x1="286.5" y1="467.38" x2="301.4" y2="467.38" stroke="#262626" stroke-width="1.3"/>
<text transform="translate(236.8,467.38) rotate(-90)" x="0" y="4.32" font-size="12" text-anchor="middle" textLength="6.4" lengthAdjust="spacingAndGlyphs" fill="#262626">6</text>
<circle cx="248" cy="482.6" r="3.7" fill="none" stroke="#262626" stroke-width="1.25"/>
<line x1="245.41" y1="480.01" x2="250.59" y2="485.19" stroke="#262626" stroke-width="1"/>
<line x1="245.41" y1="485.19" x2="250.59" y2="480.01" stroke="#262626" stroke-width="1"/>
<circle cx="255.6" cy="482.6" r="2.4" fill="#262626"/>
<polyline points="255.6,482.6 270.3,482.6 286,491.1" fill="none" stroke="#262626" stroke-width="1.3"/>
<line x1="286.5" y1="482.6" x2="301.4" y2="482.6" stroke="#262626" stroke-width="1.3"/>
<text transform="translate(236.8,482.6) rotate(-90)" x="0" y="4.32" font-size="12" text-anchor="middle" textLength="6.4" lengthAdjust="spacingAndGlyphs" fill="#262626">5</text>
<circle cx="248" cy="497.82" r="3.7" fill="none" stroke="#262626" stroke-width="1.25"/>
<line x1="245.41" y1="495.23" x2="250.59" y2="500.41" stroke="#262626" stroke-width="1"/>
<line x1="245.41" y1="500.41" x2="250.59" y2="495.23" stroke="#262626" stroke-width="1"/>
<circle cx="255.6" cy="497.82" r="2.4" fill="#262626"/>
<polyline points="255.6,497.82 270.3,497.82 286,506.32" fill="none" stroke="#262626" stroke-width="1.3"/>
<line x1="286.5" y1="497.82" x2="301.4" y2="497.82" stroke="#262626" stroke-width="1.3"/>
<text transform="translate(236.8,497.82) rotate(-90)" x="0" y="4.32" font-size="12" text-anchor="middle" textLength="6.4" lengthAdjust="spacingAndGlyphs" fill="#262626">4</text>
<circle cx="248" cy="513.04" r="3.7" fill="none" stroke="#262626" stroke-width="1.25"/>
<line x1="245.41" y1="510.45" x2="250.59" y2="515.63" stroke="#262626" stroke-width="1"/>
<line x1="245.41" y1="515.63" x2="250.59" y2="510.45" stroke="#262626" stroke-width="1"/>
<circle cx="255.6" cy="513.04" r="2.4" fill="#262626"/>
<polyline points="255.6,513.04 270.3,513.04 286,521.54" fill="none" stroke="#262626" stroke-width="1.3"/>
<line x1="286.5" y1="513.04" x2="301.4" y2="513.04" stroke="#262626" stroke-width="1.3"/>
<text transform="translate(236.8,513.04) rotate(-90)" x="0" y="4.32" font-size="12" text-anchor="middle" textLength="6.4" lengthAdjust="spacingAndGlyphs" fill="#262626">3</text>
<circle cx="248" cy="528.26" r="3.7" fill="none" stroke="#262626" stroke-width="1.25"/>
<line x1="245.41" y1="525.67" x2="250.59" y2="530.85" stroke="#262626" stroke-width="1"/>
<line x1="245.41" y1="530.85" x2="250.59" y2="525.67" stroke="#262626" stroke-width="1"/>
<circle cx="255.6" cy="528.26" r="2.4" fill="#262626"/>
<polyline points="255.6,528.26 270.3,528.26 286,536.76" fill="none" stroke="#262626" stroke-width="1.3"/>
<line x1="286.5" y1="528.26" x2="301.4" y2="528.26" stroke="#262626" stroke-width="1.3"/>
<text transform="translate(236.8,528.26) rotate(-90)" x="0" y="4.32" font-size="12" text-anchor="middle" textLength="6.4" lengthAdjust="spacingAndGlyphs" fill="#262626">2</text>
<circle cx="248" cy="543.48" r="3.7" fill="none" stroke="#262626" stroke-width="1.25"/>
<line x1="245.41" y1="540.89" x2="250.59" y2="546.07" stroke="#262626" stroke-width="1"/>
<line x1="245.41" y1="546.07" x2="250.59" y2="540.89" stroke="#262626" stroke-width="1"/>
<polyline points="255.6,543.48 270.3,543.48 286,551.98" fill="none" stroke="#262626" stroke-width="1.3"/>
<line x1="286.5" y1="543.48" x2="301.4" y2="543.48" stroke="#262626" stroke-width="1.3"/>
<text transform="translate(236.8,543.48) rotate(-90)" x="0" y="4.32" font-size="12" text-anchor="middle" textLength="6.4" lengthAdjust="spacingAndGlyphs" fill="#262626">1</text>
<line x1="301.4" y1="345.62" x2="323.6" y2="345.62" stroke="#262626" stroke-width="1.3"/>
<line x1="301.4" y1="360.84" x2="323.6" y2="360.84" stroke="#262626" stroke-width="1.3"/>
<text x="306.9" y="342.7" font-size="11" textLength="17" lengthAdjust="spacingAndGlyphs" fill="#262626">SIG</text>
<text x="306.9" y="357.72" font-size="11" textLength="22" lengthAdjust="spacingAndGlyphs" fill="#262626">FAN</text>
<text x="304.6" y="555.68" font-size="11" textLength="11" lengthAdjust="spacingAndGlyphs" fill="#262626">N-</text>
<text x="304.6" y="570.9" font-size="11" textLength="13.5" lengthAdjust="spacingAndGlyphs" fill="#262626">RP</text>
<text x="304.6" y="586.12" font-size="11" textLength="14.5" lengthAdjust="spacingAndGlyphs" fill="#262626">P+</text>
<text x="304.6" y="601.34" font-size="11" textLength="22.5" lengthAdjust="spacingAndGlyphs" fill="#262626">GND</text>
<text x="304.6" y="616.56" font-size="11" textLength="12.5" lengthAdjust="spacingAndGlyphs" fill="#262626">T1</text>
<text x="304.6" y="631.78" font-size="11" textLength="13" lengthAdjust="spacingAndGlyphs" fill="#262626">T2</text>
<line x1="301.4" y1="558.8" x2="323.2" y2="558.8" stroke="#262626" stroke-width="1.3"/>
<line x1="301.4" y1="589.2" x2="323.2" y2="589.2" stroke="#262626" stroke-width="1.3"/>
<line x1="301.4" y1="574" x2="323.2" y2="574" stroke="#262626" stroke-width="1.3"/>
<polyline points="323.2,558.8 339.4,589.2 354.7,558.8 370,589.2 384.6,589.2" fill="none" stroke="#262626" stroke-width="1.2"/>
<polyline points="323.2,589.2 339.4,558.8 354.7,589.2 370,558.8 384.6,558.8" fill="none" stroke="#262626" stroke-width="1.2"/>
<path d="M384.5,551.3 L400.8,551.3 A6.7,23 0 0 1 400.8,597.3 L384.5,597.3" fill="none" stroke="#262626" stroke-width="1.2"/>
<ellipse cx="384.5" cy="574.3" rx="7.3" ry="23" fill="none" stroke="#262626" stroke-width="1.2"/>
<polyline points="301.4,604.4 392.4,604.4 392.4,597.3" fill="none" stroke="#262626" stroke-width="1.3"/>
<circle cx="339" cy="604.4" r="1.8" fill="#262626"/>
<line x1="339" y1="604.4" x2="339" y2="612" stroke="#262626" stroke-width="1.2"/>
<polygon points="331,612 347,612 339,619.5" fill="none" stroke="#262626" stroke-width="1.2"/>
<line x1="301.4" y1="619.58" x2="323.7" y2="619.58" stroke="#262626" stroke-width="1.3"/>
<line x1="301.4" y1="634.8" x2="323.7" y2="634.8" stroke="#262626" stroke-width="1.3"/>
<text x="329.3" y="632.6" font-size="14.3" textLength="71" lengthAdjust="spacingAndGlyphs" fill="#262626">Thermistor</text>
<text x="412.8" y="562.4" font-size="11" textLength="32" lengthAdjust="spacingAndGlyphs" fill="#262626">RS485</text>
<text x="412.8" y="578.6" font-size="11" textLength="44.5" lengthAdjust="spacingAndGlyphs" fill="#262626">Modbus</text>
<text x="412.8" y="594" font-size="11" textLength="24.7" lengthAdjust="spacingAndGlyphs" fill="#262626">-RTU</text>
<polygon points="206.6,555.3 214.5,547.5 214.5,563.4" fill="none" stroke="#262626" stroke-width="1.2"/>
<polyline points="214.5,549.4 225.4,549.4 225.4,566.2 209.7,566.2 209.7,589.2 236,589.2" fill="none" stroke="#262626" stroke-width="1.3"/>
<polyline points="214.5,561.2 222.4,561.2 222.4,589.2" fill="none" stroke="#262626" stroke-width="1.3"/>
<polygon points="206.9,570.2 214.5,577.9 206.9,586" fill="none" stroke="#262626" stroke-width="1.2"/>
<line x1="225.4" y1="559" x2="236" y2="559" stroke="#262626" stroke-width="1.3"/>
<path d="M236,559 a8,3.78 0 0 1 0,7.55 a8,3.78 0 0 1 0,7.55 a8,3.78 0 0 1 0,7.55 a8,3.78 0 0 1 0,7.55" fill="none" stroke="#262626" stroke-width="1.3"/>
<path d="M255.6,559 a8,3.78 0 0 0 0,7.55 a8,3.78 0 0 0 0,7.55 a8,3.78 0 0 0 0,7.55 a8,3.78 0 0 0 0,7.55" fill="none" stroke="#262626" stroke-width="1.3"/>
<line x1="236" y1="566.55" x2="238.5" y2="566.55" stroke="#262626" stroke-width="1.1"/>
<line x1="253" y1="566.55" x2="255.6" y2="566.55" stroke="#262626" stroke-width="1.1"/>
<line x1="236" y1="574.1" x2="238.5" y2="574.1" stroke="#262626" stroke-width="1.1"/>
<line x1="253" y1="574.1" x2="255.6" y2="574.1" stroke="#262626" stroke-width="1.1"/>
<line x1="236" y1="581.65" x2="238.5" y2="581.65" stroke="#262626" stroke-width="1.1"/>
<line x1="253" y1="581.65" x2="255.6" y2="581.65" stroke="#262626" stroke-width="1.1"/>
<line x1="255.6" y1="559" x2="301.4" y2="559" stroke="#262626" stroke-width="1.3"/>
<line x1="255.6" y1="589.2" x2="301.4" y2="589.2" stroke="#262626" stroke-width="1.3"/>
<circle cx="263" cy="559" r="2.3" fill="#262626"/>
<polyline points="263,559 263,574 275.5,574" fill="none" stroke="#262626" stroke-width="1.3"/>
<polyline points="275.5,574 277.12,571.4 278.75,576.6 280.38,571.4 282,576.6 283.62,571.4 285.25,576.6 286.88,571.4 288.5,574" fill="none" stroke="#262626" stroke-width="1.1"/>
<line x1="288.5" y1="574" x2="301.4" y2="574" stroke="#262626" stroke-width="1.3"/>
<g transform="translate(0.8,-1.9)">
<rect x="554.6" y="67.2" width="77" height="14.4" fill="none" stroke="#262626" stroke-width="1.3"/>
<text x="592.4" y="78.6" font-size="12" text-anchor="middle" textLength="33" lengthAdjust="spacingAndGlyphs" font-weight="bold" font-style="italic" fill="#262626">LOAD</text>
<line x1="560.5" y1="81.6" x2="560.5" y2="641.7" stroke="#262626" stroke-width="2.2"/>
<line x1="582.5" y1="81.6" x2="582.5" y2="641.7" stroke="#262626" stroke-width="2.2"/>
<line x1="604.4" y1="81.6" x2="604.4" y2="641.7" stroke="#262626" stroke-width="2.2"/>
<line x1="626.3" y1="81.6" x2="626.3" y2="641.7" stroke="#262626" stroke-width="2.2"/>
<line x1="560.5" y1="94.7" x2="937.6" y2="94.7" stroke="#262626" stroke-width="1.4"/>
<circle cx="560.5" cy="94.7" r="1.6" fill="#262626"/>
<line x1="582.5" y1="109.9" x2="937.6" y2="109.9" stroke="#262626" stroke-width="1.4"/>
<circle cx="582.5" cy="109.9" r="1.6" fill="#262626"/>
<line x1="604.4" y1="125.2" x2="937.6" y2="125.2" stroke="#262626" stroke-width="1.4"/>
<circle cx="604.4" cy="125.2" r="1.6" fill="#262626"/>
<line x1="626.3" y1="140.5" x2="937.6" y2="140.5" stroke="#262626" stroke-width="1.4"/>
<circle cx="626.3" cy="140.5" r="1.6" fill="#262626"/>
<line x1="937.6" y1="140.5" x2="937.6" y2="197.4" stroke="#262626" stroke-width="1.3"/>
<line x1="664.4" y1="94.7" x2="664.4" y2="171.2" stroke="#262626" stroke-width="1.3"/>
<circle cx="664.4" cy="94.7" r="1.7" fill="#262626"/>
<rect x="660.6" y="155.2" width="7.6" height="16" fill="none" stroke="#262626" stroke-width="1.1"/>
<line x1="664.4" y1="171.2" x2="664.4" y2="193.6" stroke="#262626" stroke-width="1.3"/>
<circle cx="664.4" cy="178.6" r="1.9" fill="#262626"/>
<line x1="664.4" y1="193.6" x2="672.2" y2="208.6" stroke="#262626" stroke-width="1.3"/>
<circle cx="664.4" cy="209" r="1.9" fill="#262626"/>
<line x1="687.2" y1="109.9" x2="687.2" y2="171.2" stroke="#262626" stroke-width="1.3"/>
<circle cx="687.2" cy="109.9" r="1.7" fill="#262626"/>
<rect x="683.4" y="155.2" width="7.6" height="16" fill="none" stroke="#262626" stroke-width="1.9"/>
<line x1="687.2" y1="171.2" x2="687.2" y2="193.6" stroke="#262626" stroke-width="1.3"/>
<circle cx="687.2" cy="178.6" r="1.9" fill="#262626"/>
<line x1="687.2" y1="193.6" x2="695" y2="208.6" stroke="#262626" stroke-width="1.3"/>
<circle cx="687.2" cy="209" r="1.9" fill="#262626"/>
<line x1="710" y1="125.2" x2="710" y2="171.2" stroke="#262626" stroke-width="1.3"/>
<circle cx="710" cy="125.2" r="1.7" fill="#262626"/>
<rect x="706.2" y="155.2" width="7.6" height="16" fill="none" stroke="#262626" stroke-width="1.1"/>
<line x1="710" y1="171.2" x2="710" y2="193.6" stroke="#262626" stroke-width="1.3"/>
<circle cx="710" cy="178.6" r="1.9" fill="#262626"/>
<line x1="710" y1="193.6" x2="717.8" y2="208.6" stroke="#262626" stroke-width="1.3"/>
<circle cx="710" cy="209" r="1.9" fill="#262626"/>
<circle cx="732.6" cy="140.5" r="1.7" fill="#262626"/>
<line x1="732.6" y1="140.5" x2="732.6" y2="197.4" stroke="#262626" stroke-width="1.3"/>
<line x1="664.4" y1="201.2" x2="724.4" y2="201.2" stroke="#262626" stroke-width="1.3" stroke-dasharray="6,3.6"/>
<rect x="724.4" y="197.4" width="15.6" height="8" fill="none" stroke="#262626" stroke-width="1.3"/>
<line x1="724.4" y1="197.4" x2="740" y2="205.4" stroke="#262626" stroke-width="1.2"/>
<text x="735.6" y="217.6" font-size="11" textLength="19.6" lengthAdjust="spacingAndGlyphs" fill="#262626">K12</text>
<line x1="664.4" y1="209" x2="664.4" y2="277.4" stroke="#262626" stroke-width="1.3"/>
<line x1="710" y1="209" x2="710" y2="277.4" stroke="#262626" stroke-width="1.3"/>
<line x1="687.2" y1="209" x2="687.2" y2="239.4" stroke="#262626" stroke-width="1.3"/>
<line x1="664.4" y1="224.2" x2="668.9" y2="224.2" stroke="#262626" stroke-width="1.2"/>
<polyline points="668.9,224.2 670.6,221.6 672.3,226.8 674,221.6 675.7,226.8 677.4,221.6 679.1,226.8 680.8,221.6 682.5,224.2" fill="none" stroke="#262626" stroke-width="1.1"/>
<line x1="682.5" y1="224.2" x2="710" y2="224.2" stroke="#262626" stroke-width="1.2"/>
<circle cx="664.4" cy="224.2" r="1.9" fill="#262626"/>
<circle cx="710" cy="224.2" r="1.9" fill="#262626"/>
<line x1="664.4" y1="239.4" x2="668.9" y2="239.4" stroke="#262626" stroke-width="1.2"/>
<polyline points="668.9,239.4 670.6,236.8 672.3,242 674,236.8 675.7,242 677.4,236.8 679.1,242 680.8,236.8 682.5,239.4" fill="none" stroke="#262626" stroke-width="1.1"/>
<line x1="682.5" y1="239.4" x2="692.1" y2="239.4" stroke="#262626" stroke-width="1.2"/>
<polyline points="692.1,239.4 693.74,236.8 695.38,242 697.01,236.8 698.65,242 700.29,236.8 701.93,242 703.56,236.8 705.2,239.4" fill="none" stroke="#262626" stroke-width="1.1"/>
<line x1="705.2" y1="239.4" x2="710" y2="239.4" stroke="#262626" stroke-width="1.2"/>
<circle cx="664.4" cy="239.4" r="1.9" fill="#262626"/>
<circle cx="687.2" cy="239.4" r="2" fill="#262626"/>
<circle cx="710" cy="239.4" r="1.9" fill="#262626"/>
<line x1="687.2" y1="239.4" x2="676.88" y2="256.6" stroke="#262626" stroke-width="1.2"/>
<line x1="674.72" y1="260.2" x2="664.4" y2="277.4" stroke="#262626" stroke-width="1.2"/>
<line x1="680.31" y1="258.66" x2="673.45" y2="254.54" stroke="#262626" stroke-width="1.3"/>
<line x1="678.15" y1="262.26" x2="671.29" y2="258.14" stroke="#262626" stroke-width="1.3"/>
<line x1="687.2" y1="239.4" x2="697.52" y2="256.6" stroke="#262626" stroke-width="1.2"/>
<line x1="699.68" y1="260.2" x2="710" y2="277.4" stroke="#262626" stroke-width="1.2"/>
<line x1="700.95" y1="254.54" x2="694.09" y2="258.66" stroke="#262626" stroke-width="1.3"/>
<line x1="703.11" y1="258.14" x2="696.25" y2="262.26" stroke="#262626" stroke-width="1.3"/>
<line x1="664.4" y1="277.4" x2="685.1" y2="277.4" stroke="#262626" stroke-width="1.2"/>
<line x1="689.3" y1="277.4" x2="710" y2="277.4" stroke="#262626" stroke-width="1.2"/>
<line x1="685.1" y1="273.8" x2="685.1" y2="281" stroke="#262626" stroke-width="1.3"/>
<line x1="689.3" y1="273.8" x2="689.3" y2="281" stroke="#262626" stroke-width="1.3"/>
<circle cx="664.4" cy="277.4" r="1.9" fill="#262626"/>
<circle cx="710" cy="277.4" r="1.9" fill="#262626"/>
<line x1="778.4" y1="94.7" x2="778.4" y2="171.2" stroke="#262626" stroke-width="1.3"/>
<circle cx="778.4" cy="94.7" r="1.7" fill="#262626"/>
<rect x="774.6" y="155.2" width="7.6" height="16" fill="none" stroke="#262626" stroke-width="1.1"/>
<line x1="778.4" y1="171.2" x2="778.4" y2="193.6" stroke="#262626" stroke-width="1.3"/>
<circle cx="778.4" cy="178.6" r="1.9" fill="#262626"/>
<line x1="778.4" y1="193.6" x2="786.2" y2="208.6" stroke="#262626" stroke-width="1.3"/>
<circle cx="778.4" cy="209" r="1.9" fill="#262626"/>
<line x1="801" y1="109.9" x2="801" y2="171.2" stroke="#262626" stroke-width="1.3"/>
<circle cx="801" cy="109.9" r="1.7" fill="#262626"/>
<rect x="797.2" y="155.2" width="7.6" height="16" fill="none" stroke="#262626" stroke-width="1.9"/>
<line x1="801" y1="171.2" x2="801" y2="193.6" stroke="#262626" stroke-width="1.3"/>
<circle cx="801" cy="178.6" r="1.9" fill="#262626"/>
<line x1="801" y1="193.6" x2="808.8" y2="208.6" stroke="#262626" stroke-width="1.3"/>
<circle cx="801" cy="209" r="1.9" fill="#262626"/>
<line x1="824" y1="125.2" x2="824" y2="171.2" stroke="#262626" stroke-width="1.3"/>
<circle cx="824" cy="125.2" r="1.7" fill="#262626"/>
<rect x="820.2" y="155.2" width="7.6" height="16" fill="none" stroke="#262626" stroke-width="1.1"/>
<line x1="824" y1="171.2" x2="824" y2="193.6" stroke="#262626" stroke-width="1.3"/>
<circle cx="824" cy="178.6" r="1.9" fill="#262626"/>
<line x1="824" y1="193.6" x2="831.8" y2="208.6" stroke="#262626" stroke-width="1.3"/>
<circle cx="824" cy="209" r="1.9" fill="#262626"/>
<circle cx="846.6" cy="140.5" r="1.7" fill="#262626"/>
<line x1="846.6" y1="140.5" x2="846.6" y2="197.4" stroke="#262626" stroke-width="1.3"/>
<line x1="778.4" y1="201.2" x2="838.4" y2="201.2" stroke="#262626" stroke-width="1.3" stroke-dasharray="6,3.6"/>
<rect x="838.4" y="197.4" width="15.6" height="8" fill="none" stroke="#262626" stroke-width="1.3"/>
<line x1="838.4" y1="197.4" x2="854" y2="205.4" stroke="#262626" stroke-width="1.2"/>
<text x="849.6" y="217.6" font-size="11" textLength="13.5" lengthAdjust="spacingAndGlyphs" fill="#262626">K2</text>
<line x1="778.4" y1="209" x2="778.4" y2="277.4" stroke="#262626" stroke-width="1.3"/>
<line x1="824" y1="209" x2="824" y2="277.4" stroke="#262626" stroke-width="1.3"/>
<line x1="801" y1="209" x2="801" y2="239.4" stroke="#262626" stroke-width="1.3"/>
<line x1="778.4" y1="224.2" x2="782.9" y2="224.2" stroke="#262626" stroke-width="1.2"/>
<polyline points="782.9,224.2 784.6,221.6 786.3,226.8 788,221.6 789.7,226.8 791.4,221.6 793.1,226.8 794.8,221.6 796.5,224.2" fill="none" stroke="#262626" stroke-width="1.1"/>
<line x1="796.5" y1="224.2" x2="824" y2="224.2" stroke="#262626" stroke-width="1.2"/>
<circle cx="778.4" cy="224.2" r="1.9" fill="#262626"/>
<circle cx="824" cy="224.2" r="1.9" fill="#262626"/>
<line x1="778.4" y1="239.4" x2="782.9" y2="239.4" stroke="#262626" stroke-width="1.2"/>
<polyline points="782.9,239.4 784.6,236.8 786.3,242 788,236.8 789.7,242 791.4,236.8 793.1,242 794.8,236.8 796.5,239.4" fill="none" stroke="#262626" stroke-width="1.1"/>
<line x1="796.5" y1="239.4" x2="805.9" y2="239.4" stroke="#262626" stroke-width="1.2"/>
<polyline points="805.9,239.4 807.54,236.8 809.17,242 810.81,236.8 812.45,242 814.09,236.8 815.73,242 817.36,236.8 819,239.4" fill="none" stroke="#262626" stroke-width="1.1"/>
<line x1="819" y1="239.4" x2="824" y2="239.4" stroke="#262626" stroke-width="1.2"/>
<circle cx="778.4" cy="239.4" r="1.9" fill="#262626"/>
<circle cx="801" cy="239.4" r="2" fill="#262626"/>
<circle cx="824" cy="239.4" r="1.9" fill="#262626"/>
<line x1="801" y1="239.4" x2="790.77" y2="256.6" stroke="#262626" stroke-width="1.2"/>
<line x1="788.63" y1="260.2" x2="778.4" y2="277.4" stroke="#262626" stroke-width="1.2"/>
<line x1="794.21" y1="258.64" x2="787.34" y2="254.55" stroke="#262626" stroke-width="1.3"/>
<line x1="792.06" y1="262.25" x2="785.19" y2="258.16" stroke="#262626" stroke-width="1.3"/>
<line x1="801" y1="239.4" x2="811.41" y2="256.6" stroke="#262626" stroke-width="1.2"/>
<line x1="813.59" y1="260.2" x2="824" y2="277.4" stroke="#262626" stroke-width="1.2"/>
<line x1="814.83" y1="254.53" x2="807.99" y2="258.67" stroke="#262626" stroke-width="1.3"/>
<line x1="817.01" y1="258.13" x2="810.17" y2="262.27" stroke="#262626" stroke-width="1.3"/>
<line x1="778.4" y1="277.4" x2="798.9" y2="277.4" stroke="#262626" stroke-width="1.2"/>
<line x1="803.1" y1="277.4" x2="824" y2="277.4" stroke="#262626" stroke-width="1.2"/>
<line x1="798.9" y1="273.8" x2="798.9" y2="281" stroke="#262626" stroke-width="1.3"/>
<line x1="803.1" y1="273.8" x2="803.1" y2="281" stroke="#262626" stroke-width="1.3"/>
<circle cx="778.4" cy="277.4" r="1.9" fill="#262626"/>
<circle cx="824" cy="277.4" r="1.9" fill="#262626"/>
<line x1="869.6" y1="94.7" x2="869.6" y2="171.2" stroke="#262626" stroke-width="1.3"/>
<circle cx="869.6" cy="94.7" r="1.7" fill="#262626"/>
<rect x="865.8" y="155.2" width="7.6" height="16" fill="none" stroke="#262626" stroke-width="1.1"/>
<line x1="869.6" y1="171.2" x2="869.6" y2="193.6" stroke="#262626" stroke-width="1.3"/>
<circle cx="869.6" cy="178.6" r="1.9" fill="#262626"/>
<line x1="869.6" y1="193.6" x2="877.4" y2="208.6" stroke="#262626" stroke-width="1.3"/>
<circle cx="869.6" cy="209" r="1.9" fill="#262626"/>
<line x1="892.4" y1="109.9" x2="892.4" y2="171.2" stroke="#262626" stroke-width="1.3"/>
<circle cx="892.4" cy="109.9" r="1.7" fill="#262626"/>
<rect x="888.6" y="155.2" width="7.6" height="16" fill="none" stroke="#262626" stroke-width="1.9"/>
<line x1="892.4" y1="171.2" x2="892.4" y2="193.6" stroke="#262626" stroke-width="1.3"/>
<circle cx="892.4" cy="178.6" r="1.9" fill="#262626"/>
<line x1="892.4" y1="193.6" x2="900.2" y2="208.6" stroke="#262626" stroke-width="1.3"/>
<circle cx="892.4" cy="209" r="1.9" fill="#262626"/>
<line x1="915.2" y1="125.2" x2="915.2" y2="171.2" stroke="#262626" stroke-width="1.3"/>
<circle cx="915.2" cy="125.2" r="1.7" fill="#262626"/>
<rect x="911.4" y="155.2" width="7.6" height="16" fill="none" stroke="#262626" stroke-width="1.1"/>
<line x1="915.2" y1="171.2" x2="915.2" y2="193.6" stroke="#262626" stroke-width="1.3"/>
<circle cx="915.2" cy="178.6" r="1.9" fill="#262626"/>
<line x1="915.2" y1="193.6" x2="923" y2="208.6" stroke="#262626" stroke-width="1.3"/>
<circle cx="915.2" cy="209" r="1.9" fill="#262626"/>
<line x1="869.6" y1="201.2" x2="929.4" y2="201.2" stroke="#262626" stroke-width="1.3" stroke-dasharray="6,3.6"/>
<rect x="929.4" y="197.4" width="15.6" height="8" fill="none" stroke="#262626" stroke-width="1.3"/>
<line x1="929.4" y1="197.4" x2="945" y2="205.4" stroke="#262626" stroke-width="1.2"/>
<text x="940.6" y="217.6" font-size="11" textLength="12" lengthAdjust="spacingAndGlyphs" fill="#262626">K1</text>
<line x1="869.6" y1="209" x2="869.6" y2="277.4" stroke="#262626" stroke-width="1.3"/>
<line x1="915.2" y1="209" x2="915.2" y2="277.4" stroke="#262626" stroke-width="1.3"/>
<line x1="892.4" y1="209" x2="892.4" y2="239.4" stroke="#262626" stroke-width="1.3"/>
<line x1="869.6" y1="224.2" x2="874.1" y2="224.2" stroke="#262626" stroke-width="1.2"/>
<polyline points="874.1,224.2 875.8,221.6 877.5,226.8 879.2,221.6 880.9,226.8 882.6,221.6 884.3,226.8 886,221.6 887.7,224.2" fill="none" stroke="#262626" stroke-width="1.1"/>
<line x1="887.7" y1="224.2" x2="915.2" y2="224.2" stroke="#262626" stroke-width="1.2"/>
<circle cx="869.6" cy="224.2" r="1.9" fill="#262626"/>
<circle cx="915.2" cy="224.2" r="1.9" fill="#262626"/>
<line x1="869.6" y1="239.4" x2="874.1" y2="239.4" stroke="#262626" stroke-width="1.2"/>
<polyline points="874.1,239.4 875.8,236.8 877.5,242 879.2,236.8 880.9,242 882.6,236.8 884.3,242 886,236.8 887.7,239.4" fill="none" stroke="#262626" stroke-width="1.1"/>
<line x1="887.7" y1="239.4" x2="897.3" y2="239.4" stroke="#262626" stroke-width="1.2"/>
<polyline points="897.3,239.4 898.94,236.8 900.57,242 902.21,236.8 903.85,242 905.49,236.8 907.12,242 908.76,236.8 910.4,239.4" fill="none" stroke="#262626" stroke-width="1.1"/>
<line x1="910.4" y1="239.4" x2="915.2" y2="239.4" stroke="#262626" stroke-width="1.2"/>
<circle cx="869.6" cy="239.4" r="1.9" fill="#262626"/>
<circle cx="892.4" cy="239.4" r="2" fill="#262626"/>
<circle cx="915.2" cy="239.4" r="1.9" fill="#262626"/>
<line x1="892.4" y1="239.4" x2="882.08" y2="256.6" stroke="#262626" stroke-width="1.2"/>
<line x1="879.92" y1="260.2" x2="869.6" y2="277.4" stroke="#262626" stroke-width="1.2"/>
<line x1="885.51" y1="258.66" x2="878.65" y2="254.54" stroke="#262626" stroke-width="1.3"/>
<line x1="883.35" y1="262.26" x2="876.49" y2="258.14" stroke="#262626" stroke-width="1.3"/>
<line x1="892.4" y1="239.4" x2="902.72" y2="256.6" stroke="#262626" stroke-width="1.2"/>
<line x1="904.88" y1="260.2" x2="915.2" y2="277.4" stroke="#262626" stroke-width="1.2"/>
<line x1="906.15" y1="254.54" x2="899.29" y2="258.66" stroke="#262626" stroke-width="1.3"/>
<line x1="908.31" y1="258.14" x2="901.45" y2="262.26" stroke="#262626" stroke-width="1.3"/>
<line x1="869.6" y1="277.4" x2="890.3" y2="277.4" stroke="#262626" stroke-width="1.2"/>
<line x1="894.5" y1="277.4" x2="915.2" y2="277.4" stroke="#262626" stroke-width="1.2"/>
<line x1="890.3" y1="273.8" x2="890.3" y2="281" stroke="#262626" stroke-width="1.3"/>
<line x1="894.5" y1="273.8" x2="894.5" y2="281" stroke="#262626" stroke-width="1.3"/>
<circle cx="869.6" cy="277.4" r="1.9" fill="#262626"/>
<circle cx="915.2" cy="277.4" r="1.9" fill="#262626"/>
<line x1="743.2" y1="239.4" x2="771.2" y2="239.4" stroke="#262626" stroke-width="1.3" stroke-dasharray="5,6.5"/>
<polyline points="732.6,205.4 732.6,300 838.8,300 838.8,376.4 801.4,376.4" fill="none" stroke="#262626" stroke-width="1.3"/>
<polyline points="846.6,205.4 846.6,528.4 801.4,528.4" fill="none" stroke="#262626" stroke-width="1.3"/>
<polyline points="937.6,205.4 937.6,543.6 801.4,543.6" fill="none" stroke="#262626" stroke-width="1.3"/>
<polyline points="560.5,307.6 824,307.6 824,330.4 755.6,330.4 755.6,543.6" fill="none" stroke="#262626" stroke-width="1.3"/>
<circle cx="560.5" cy="307.6" r="1.6" fill="#262626"/>
<rect x="709.6" y="304" width="16" height="7.6" fill="none" stroke="#262626" stroke-width="1.2"/>
<text x="699" y="296.6" font-size="12" textLength="27.6" lengthAdjust="spacingAndGlyphs" fill="#262626">FUSE</text>
<line x1="560.5" y1="345.6" x2="664.4" y2="345.6" stroke="#262626" stroke-width="1.3"/>
<circle cx="560.5" cy="345.6" r="1.6" fill="#262626"/>
<rect x="633.4" y="342" width="15.6" height="7.6" fill="none" stroke="#262626" stroke-width="1.2"/>
<text x="631.4" y="335.6" font-size="12" textLength="27" lengthAdjust="spacingAndGlyphs" fill="#262626">FUSE</text>
<line x1="626.3" y1="368.4" x2="664.4" y2="368.4" stroke="#262626" stroke-width="1.3"/>
<circle cx="626.3" cy="368.4" r="1.6" fill="#262626"/>
<rect x="664.4" y="323.4" width="137" height="326.6" fill="none" stroke="#262626" stroke-width="1.3"/>
<circle cx="664.4" cy="345.6" r="2.4" fill="#262626"/>
<text transform="translate(673.9,345.6) rotate(-90)" x="0" y="4.32" font-size="12" text-anchor="middle" textLength="12.8" lengthAdjust="spacingAndGlyphs" fill="#262626">33</text>
<circle cx="664.4" cy="368.43" r="2.4" fill="#262626"/>
<text transform="translate(673.9,368.43) rotate(-90)" x="0" y="4.32" font-size="12" text-anchor="middle" textLength="12.8" lengthAdjust="spacingAndGlyphs" fill="#262626">34</text>
<circle cx="664.4" cy="391.26" r="2.4" fill="#262626"/>
<text transform="translate(673.9,391.26) rotate(-90)" x="0" y="4.32" font-size="12" text-anchor="middle" textLength="12.8" lengthAdjust="spacingAndGlyphs" fill="#262626">35</text>
<circle cx="664.4" cy="414.09" r="2.4" fill="#262626"/>
<text transform="translate(673.9,414.09) rotate(-90)" x="0" y="4.32" font-size="12" text-anchor="middle" textLength="12.8" lengthAdjust="spacingAndGlyphs" fill="#262626">36</text>
<circle cx="664.4" cy="436.92" r="2.4" fill="#262626"/>
<text transform="translate(673.9,436.92) rotate(-90)" x="0" y="4.32" font-size="12" text-anchor="middle" textLength="12.8" lengthAdjust="spacingAndGlyphs" fill="#262626">37</text>
<circle cx="664.4" cy="459.75" r="2.4" fill="#262626"/>
<text transform="translate(673.9,459.75) rotate(-90)" x="0" y="4.32" font-size="12" text-anchor="middle" textLength="12.8" lengthAdjust="spacingAndGlyphs" fill="#262626">38</text>
<circle cx="664.4" cy="482.58" r="2.4" fill="#262626"/>
<text transform="translate(673.9,482.58) rotate(-90)" x="0" y="4.32" font-size="12" text-anchor="middle" textLength="12.8" lengthAdjust="spacingAndGlyphs" fill="#262626">39</text>
<circle cx="664.4" cy="505.41" r="2.4" fill="#262626"/>
<text transform="translate(673.9,505.41) rotate(-90)" x="0" y="4.32" font-size="12" text-anchor="middle" textLength="12.8" lengthAdjust="spacingAndGlyphs" fill="#262626">40</text>
<circle cx="664.4" cy="528.24" r="2.4" fill="#262626"/>
<text transform="translate(673.9,528.24) rotate(-90)" x="0" y="4.32" font-size="12" text-anchor="middle" textLength="12.8" lengthAdjust="spacingAndGlyphs" fill="#262626">41</text>
<circle cx="664.4" cy="551.07" r="2.4" fill="#262626"/>
<text transform="translate(673.9,551.07) rotate(-90)" x="0" y="4.32" font-size="12" text-anchor="middle" textLength="12.8" lengthAdjust="spacingAndGlyphs" fill="#262626">42</text>
<circle cx="664.4" cy="573.9" r="2.4" fill="#262626"/>
<text transform="translate(673.9,573.9) rotate(-90)" x="0" y="4.32" font-size="12" text-anchor="middle" textLength="12.8" lengthAdjust="spacingAndGlyphs" fill="#262626">43</text>
<circle cx="664.4" cy="596.73" r="2.4" fill="#262626"/>
<text transform="translate(673.9,596.73) rotate(-90)" x="0" y="4.32" font-size="12" text-anchor="middle" textLength="12.8" lengthAdjust="spacingAndGlyphs" fill="#262626">44</text>
<circle cx="664.4" cy="619.56" r="2.4" fill="#262626"/>
<text transform="translate(673.9,619.56) rotate(-90)" x="0" y="4.32" font-size="12" text-anchor="middle" textLength="12.8" lengthAdjust="spacingAndGlyphs" fill="#262626">32</text>
<text transform="translate(688,345.6) rotate(-90)" x="0" y="4.32" font-size="12" text-anchor="middle" textLength="5.5" lengthAdjust="spacingAndGlyphs" fill="#262626">L</text>
<text transform="translate(688,368.43) rotate(-90)" x="0" y="4.32" font-size="12" text-anchor="middle" textLength="8.5" lengthAdjust="spacingAndGlyphs" fill="#262626">N</text>
<text transform="translate(688,505.41) rotate(-90)" x="0" y="4.32" font-size="12" text-anchor="middle" textLength="20" lengthAdjust="spacingAndGlyphs" fill="#262626">Out</text>
<text transform="translate(688,528.24) rotate(-90)" x="0" y="4.32" font-size="12" text-anchor="middle" textLength="10" lengthAdjust="spacingAndGlyphs" fill="#262626">In</text>
<text transform="translate(688,551.07) rotate(-90)" x="0" y="4.32" font-size="12" text-anchor="middle" textLength="12" lengthAdjust="spacingAndGlyphs" fill="#262626">L3</text>
<text transform="translate(688,573.9) rotate(-90)" x="0" y="4.32" font-size="12" text-anchor="middle" textLength="12" lengthAdjust="spacingAndGlyphs" fill="#262626">L2</text>
<text transform="translate(688,596.73) rotate(-90)" x="0" y="4.32" font-size="12" text-anchor="middle" textLength="12" lengthAdjust="spacingAndGlyphs" fill="#262626">L1</text>
<text transform="translate(688,619.56) rotate(-90)" x="0" y="4.32" font-size="12" text-anchor="middle" textLength="8.5" lengthAdjust="spacingAndGlyphs" fill="#262626">N</text>
<text transform="translate(701.8,357.01) rotate(-90)" x="0" y="4.32" font-size="12" text-anchor="middle" textLength="22.8" lengthAdjust="spacingAndGlyphs" fill="#262626">AUX</text>
<text transform="translate(701.2,519.33) rotate(-90)" x="0" y="4.32" font-size="12" text-anchor="middle" textLength="21.5" lengthAdjust="spacingAndGlyphs" fill="#262626">CT1</text>
<text transform="translate(716.8,457.9) rotate(-90)" x="0" y="7.02" font-size="19.5" text-anchor="middle" textLength="36.5" lengthAdjust="spacingAndGlyphs" fill="#262626">X80</text>
<circle cx="560.5" cy="497.61" r="1.3" fill="#262626"/>
<circle cx="560.5" cy="536.04" r="1.3" fill="#262626"/>
<polyline points="664.4,505.41 563.4,505.41 563.4,509.01 560.5,509.01" fill="none" stroke="#262626" stroke-width="1.3"/>
<polyline points="664.4,528.24 563.4,528.24 563.4,524.84 560.5,524.84" fill="none" stroke="#262626" stroke-width="1.3"/>
<path d="M560.5,509.01 a6.5,3.96 0 0 0 0,7.91 a6.5,3.96 0 0 0 0,7.91" fill="none" stroke="#262626" stroke-width="1.3"/>
<line x1="560.5" y1="516.93" x2="563.4" y2="516.93" stroke="#262626" stroke-width="1.1"/>
<text transform="translate(552.5,497.41) rotate(-90)" x="0" y="4.32" font-size="12" text-anchor="middle" textLength="11.7" lengthAdjust="spacingAndGlyphs" fill="#262626">P2</text>
<text transform="translate(552.5,535.74) rotate(-90)" x="0" y="4.32" font-size="12" text-anchor="middle" textLength="11" lengthAdjust="spacingAndGlyphs" fill="#262626">P1</text>
<circle cx="604.4" cy="551.07" r="1.3" fill="#262626"/>
<circle cx="582.5" cy="573.9" r="1.3" fill="#262626"/>
<line x1="560.5" y1="596.73" x2="664.4" y2="596.73" stroke="#262626" stroke-width="1.3"/>
<circle cx="560.5" cy="596.73" r="1.5" fill="#262626"/>
<line x1="626.3" y1="619.56" x2="664.4" y2="619.56" stroke="#262626" stroke-width="1.3"/>
<circle cx="626.3" cy="619.56" r="1.5" fill="#262626"/>
<text transform="translate(560.5,651.5) rotate(-90)" x="0" y="4.32" font-size="12" text-anchor="middle" textLength="11.5" lengthAdjust="spacingAndGlyphs" fill="#262626">L1</text>
<text transform="translate(582.5,651.5) rotate(-90)" x="0" y="4.32" font-size="12" text-anchor="middle" textLength="11.5" lengthAdjust="spacingAndGlyphs" fill="#262626">L2</text>
<text transform="translate(604.4,651.5) rotate(-90)" x="0" y="4.32" font-size="12" text-anchor="middle" textLength="11.5" lengthAdjust="spacingAndGlyphs" fill="#262626">L3</text>
<text transform="translate(626.3,651.5) rotate(-90)" x="0" y="4.32" font-size="12" text-anchor="middle" textLength="8.5" lengthAdjust="spacingAndGlyphs" fill="#262626">N</text>
<text transform="translate(793.3,338.01) rotate(-90)" x="0" y="4.14" font-size="11.5" text-anchor="middle" textLength="11.2" lengthAdjust="spacingAndGlyphs" fill="#262626">22</text>
<text transform="translate(793.3,353.23) rotate(-90)" x="0" y="4.14" font-size="11.5" text-anchor="middle" textLength="11.2" lengthAdjust="spacingAndGlyphs" fill="#262626">21</text>
<text transform="translate(793.3,368.45) rotate(-90)" x="0" y="4.14" font-size="11.5" text-anchor="middle" textLength="11.2" lengthAdjust="spacingAndGlyphs" fill="#262626">20</text>
<text transform="translate(793.3,383.67) rotate(-90)" x="0" y="4.14" font-size="11.5" text-anchor="middle" textLength="5.8" lengthAdjust="spacingAndGlyphs" fill="#262626">1</text>
<text transform="translate(793.3,398.89) rotate(-90)" x="0" y="4.14" font-size="11.5" text-anchor="middle" textLength="5.8" lengthAdjust="spacingAndGlyphs" fill="#262626">2</text>
<text transform="translate(793.3,414.11) rotate(-90)" x="0" y="4.14" font-size="11.5" text-anchor="middle" textLength="5.8" lengthAdjust="spacingAndGlyphs" fill="#262626">3</text>
<text transform="translate(793.3,429.33) rotate(-90)" x="0" y="4.14" font-size="11.5" text-anchor="middle" textLength="5.8" lengthAdjust="spacingAndGlyphs" fill="#262626">4</text>
<text transform="translate(793.3,444.55) rotate(-90)" x="0" y="4.14" font-size="11.5" text-anchor="middle" textLength="5.8" lengthAdjust="spacingAndGlyphs" fill="#262626">5</text>
<text transform="translate(793.3,459.77) rotate(-90)" x="0" y="4.14" font-size="11.5" text-anchor="middle" textLength="5.8" lengthAdjust="spacingAndGlyphs" fill="#262626">6</text>
<text transform="translate(793.3,474.99) rotate(-90)" x="0" y="4.14" font-size="11.5" text-anchor="middle" textLength="5.8" lengthAdjust="spacingAndGlyphs" fill="#262626">7</text>
<text transform="translate(793.3,490.21) rotate(-90)" x="0" y="4.14" font-size="11.5" text-anchor="middle" textLength="5.8" lengthAdjust="spacingAndGlyphs" fill="#262626">8</text>
<text transform="translate(793.3,505.43) rotate(-90)" x="0" y="4.14" font-size="11.5" text-anchor="middle" textLength="5.8" lengthAdjust="spacingAndGlyphs" fill="#262626">9</text>
<text transform="translate(793.3,520.65) rotate(-90)" x="0" y="4.14" font-size="11.5" text-anchor="middle" textLength="11.2" lengthAdjust="spacingAndGlyphs" fill="#262626">10</text>
<text transform="translate(793.3,535.87) rotate(-90)" x="0" y="4.14" font-size="11.5" text-anchor="middle" textLength="11.2" lengthAdjust="spacingAndGlyphs" fill="#262626">11</text>
<text transform="translate(793.3,551.09) rotate(-90)" x="0" y="4.14" font-size="11.5" text-anchor="middle" textLength="11.2" lengthAdjust="spacingAndGlyphs" fill="#262626">12</text>
<text transform="translate(793.3,566.31) rotate(-90)" x="0" y="4.14" font-size="11.5" text-anchor="middle" textLength="11.2" lengthAdjust="spacingAndGlyphs" fill="#262626">13</text>
<text transform="translate(793.3,581.53) rotate(-90)" x="0" y="4.14" font-size="11.5" text-anchor="middle" textLength="11.2" lengthAdjust="spacingAndGlyphs" fill="#262626">14</text>
<text transform="translate(793.3,596.75) rotate(-90)" x="0" y="4.14" font-size="11.5" text-anchor="middle" textLength="11.2" lengthAdjust="spacingAndGlyphs" fill="#262626">23</text>
<text transform="translate(793.3,611.97) rotate(-90)" x="0" y="4.14" font-size="11.5" text-anchor="middle" textLength="11.2" lengthAdjust="spacingAndGlyphs" fill="#262626">24</text>
<text transform="translate(793.3,627.19) rotate(-90)" x="0" y="4.14" font-size="11.5" text-anchor="middle" textLength="11.2" lengthAdjust="spacingAndGlyphs" fill="#262626">30</text>
<text transform="translate(793.3,642.41) rotate(-90)" x="0" y="4.14" font-size="11.5" text-anchor="middle" textLength="11.2" lengthAdjust="spacingAndGlyphs" fill="#262626">31</text>
<circle cx="801.4" cy="330.4" r="2.4" fill="#262626"/>
<circle cx="801.4" cy="345.62" r="2.4" fill="#262626"/>
<circle cx="801.4" cy="360.84" r="2.4" fill="#262626"/>
<circle cx="801.4" cy="376.06" r="2.4" fill="#262626"/>
<circle cx="801.4" cy="391.28" r="2.4" fill="#262626"/>
<circle cx="801.4" cy="406.5" r="2.4" fill="#262626"/>
<circle cx="801.4" cy="421.72" r="2.4" fill="#262626"/>
<circle cx="801.4" cy="436.94" r="2.4" fill="#262626"/>
<circle cx="801.4" cy="452.16" r="2.4" fill="#262626"/>
<circle cx="801.4" cy="467.38" r="2.4" fill="#262626"/>
<circle cx="801.4" cy="482.6" r="2.4" fill="#262626"/>
<circle cx="801.4" cy="497.82" r="2.4" fill="#262626"/>
<circle cx="801.4" cy="513.04" r="2.4" fill="#262626"/>
<circle cx="801.4" cy="528.26" r="2.4" fill="#262626"/>
<circle cx="801.4" cy="543.48" r="2.4" fill="#262626"/>
<circle cx="801.4" cy="558.7" r="2.4" fill="#262626"/>
<circle cx="801.4" cy="573.92" r="2.4" fill="#262626"/>
<circle cx="801.4" cy="589.14" r="2.4" fill="#262626"/>
<circle cx="801.4" cy="604.36" r="2.4" fill="#262626"/>
<circle cx="801.4" cy="619.58" r="2.4" fill="#262626"/>
<circle cx="801.4" cy="634.8" r="2.4" fill="#262626"/>
<circle cx="748" cy="345.62" r="3.7" fill="none" stroke="#262626" stroke-width="1.25"/>
<line x1="745.41" y1="343.03" x2="750.59" y2="348.21" stroke="#262626" stroke-width="1"/>
<line x1="745.41" y1="348.21" x2="750.59" y2="343.03" stroke="#262626" stroke-width="1"/>
<circle cx="755.6" cy="345.62" r="2.4" fill="#262626"/>
<polyline points="755.6,345.62 770.3,345.62 786,354.12" fill="none" stroke="#262626" stroke-width="1.3"/>
<line x1="786.5" y1="345.62" x2="801.4" y2="345.62" stroke="#262626" stroke-width="1.3"/>
<text x="741.3" y="350.12" font-size="12" text-anchor="end" textLength="17.5" lengthAdjust="spacingAndGlyphs" fill="#262626">SIG</text>
<circle cx="748" cy="360.84" r="3.7" fill="none" stroke="#262626" stroke-width="1.25"/>
<line x1="745.41" y1="358.25" x2="750.59" y2="363.43" stroke="#262626" stroke-width="1"/>
<line x1="745.41" y1="363.43" x2="750.59" y2="358.25" stroke="#262626" stroke-width="1"/>
<circle cx="755.6" cy="360.84" r="2.4" fill="#262626"/>
<polyline points="755.6,360.84 770.3,360.84 786,369.34" fill="none" stroke="#262626" stroke-width="1.3"/>
<line x1="786.5" y1="360.84" x2="801.4" y2="360.84" stroke="#262626" stroke-width="1.3"/>
<text x="741.3" y="365.34" font-size="12" text-anchor="end" textLength="21" lengthAdjust="spacingAndGlyphs" fill="#262626">FAN</text>
<circle cx="748" cy="376.06" r="3.7" fill="none" stroke="#262626" stroke-width="1.25"/>
<line x1="745.41" y1="373.47" x2="750.59" y2="378.65" stroke="#262626" stroke-width="1"/>
<line x1="745.41" y1="378.65" x2="750.59" y2="373.47" stroke="#262626" stroke-width="1"/>
<circle cx="755.6" cy="376.06" r="2.4" fill="#262626"/>
<polyline points="755.6,376.06 770.3,376.06 786,384.56" fill="none" stroke="#262626" stroke-width="1.3"/>
<line x1="786.5" y1="376.06" x2="801.4" y2="376.06" stroke="#262626" stroke-width="1.3"/>
<text transform="translate(736.8,376.06) rotate(-90)" x="0" y="4.32" font-size="12" text-anchor="middle" textLength="12.6" lengthAdjust="spacingAndGlyphs" fill="#262626">12</text>
<circle cx="748" cy="391.28" r="3.7" fill="none" stroke="#262626" stroke-width="1.25"/>
<line x1="745.41" y1="388.69" x2="750.59" y2="393.87" stroke="#262626" stroke-width="1"/>
<line x1="745.41" y1="393.87" x2="750.59" y2="388.69" stroke="#262626" stroke-width="1"/>
<circle cx="755.6" cy="391.28" r="2.4" fill="#262626"/>
<polyline points="755.6,391.28 770.3,391.28 786,399.78" fill="none" stroke="#262626" stroke-width="1.3"/>
<line x1="786.5" y1="391.28" x2="801.4" y2="391.28" stroke="#262626" stroke-width="1.3"/>
<text transform="translate(736.8,391.28) rotate(-90)" x="0" y="4.32" font-size="12" text-anchor="middle" textLength="12.6" lengthAdjust="spacingAndGlyphs" fill="#262626">11</text>
<circle cx="748" cy="406.5" r="3.7" fill="none" stroke="#262626" stroke-width="1.25"/>
<line x1="745.41" y1="403.91" x2="750.59" y2="409.09" stroke="#262626" stroke-width="1"/>
<line x1="745.41" y1="409.09" x2="750.59" y2="403.91" stroke="#262626" stroke-width="1"/>
<circle cx="755.6" cy="406.5" r="2.4" fill="#262626"/>
<polyline points="755.6,406.5 770.3,406.5 786,415" fill="none" stroke="#262626" stroke-width="1.3"/>
<line x1="786.5" y1="406.5" x2="801.4" y2="406.5" stroke="#262626" stroke-width="1.3"/>
<text transform="translate(736.8,406.5) rotate(-90)" x="0" y="4.32" font-size="12" text-anchor="middle" textLength="12.6" lengthAdjust="spacingAndGlyphs" fill="#262626">10</text>
<circle cx="748" cy="421.72" r="3.7" fill="none" stroke="#262626" stroke-width="1.25"/>
<line x1="745.41" y1="419.13" x2="750.59" y2="424.31" stroke="#262626" stroke-width="1"/>
<line x1="745.41" y1="424.31" x2="750.59" y2="419.13" stroke="#262626" stroke-width="1"/>
<circle cx="755.6" cy="421.72" r="2.4" fill="#262626"/>
<polyline points="755.6,421.72 770.3,421.72 786,430.22" fill="none" stroke="#262626" stroke-width="1.3"/>
<line x1="786.5" y1="421.72" x2="801.4" y2="421.72" stroke="#262626" stroke-width="1.3"/>
<text transform="translate(736.8,421.72) rotate(-90)" x="0" y="4.32" font-size="12" text-anchor="middle" textLength="6.4" lengthAdjust="spacingAndGlyphs" fill="#262626">9</text>
<circle cx="748" cy="436.94" r="3.7" fill="none" stroke="#262626" stroke-width="1.25"/>
<line x1="745.41" y1="434.35" x2="750.59" y2="439.53" stroke="#262626" stroke-width="1"/>
<line x1="745.41" y1="439.53" x2="750.59" y2="434.35" stroke="#262626" stroke-width="1"/>
<circle cx="755.6" cy="436.94" r="2.4" fill="#262626"/>
<polyline points="755.6,436.94 770.3,436.94 786,445.44" fill="none" stroke="#262626" stroke-width="1.3"/>
<line x1="786.5" y1="436.94" x2="801.4" y2="436.94" stroke="#262626" stroke-width="1.3"/>
<text transform="translate(736.8,436.94) rotate(-90)" x="0" y="4.32" font-size="12" text-anchor="middle" textLength="6.4" lengthAdjust="spacingAndGlyphs" fill="#262626">8</text>
<circle cx="748" cy="452.16" r="3.7" fill="none" stroke="#262626" stroke-width="1.25"/>
<line x1="745.41" y1="449.57" x2="750.59" y2="454.75" stroke="#262626" stroke-width="1"/>
<line x1="745.41" y1="454.75" x2="750.59" y2="449.57" stroke="#262626" stroke-width="1"/>
<circle cx="755.6" cy="452.16" r="2.4" fill="#262626"/>
<polyline points="755.6,452.16 770.3,452.16 786,460.66" fill="none" stroke="#262626" stroke-width="1.3"/>
<line x1="786.5" y1="452.16" x2="801.4" y2="452.16" stroke="#262626" stroke-width="1.3"/>
<text transform="translate(736.8,452.16) rotate(-90)" x="0" y="4.32" font-size="12" text-anchor="middle" textLength="6.4" lengthAdjust="spacingAndGlyphs" fill="#262626">7</text>
<circle cx="748" cy="467.38" r="3.7" fill="none" stroke="#262626" stroke-width="1.25"/>
<line x1="745.41" y1="464.79" x2="750.59" y2="469.97" stroke="#262626" stroke-width="1"/>
<line x1="745.41" y1="469.97" x2="750.59" y2="464.79" stroke="#262626" stroke-width="1"/>
<circle cx="755.6" cy="467.38" r="2.4" fill="#262626"/>
<polyline points="755.6,467.38 770.3,467.38 786,475.88" fill="none" stroke="#262626" stroke-width="1.3"/>
<line x1="786.5" y1="467.38" x2="801.4" y2="467.38" stroke="#262626" stroke-width="1.3"/>
<text transform="translate(736.8,467.38) rotate(-90)" x="0" y="4.32" font-size="12" text-anchor="middle" textLength="6.4" lengthAdjust="spacingAndGlyphs" fill="#262626">6</text>
<circle cx="748" cy="482.6" r="3.7" fill="none" stroke="#262626" stroke-width="1.25"/>
<line x1="745.41" y1="480.01" x2="750.59" y2="485.19" stroke="#262626" stroke-width="1"/>
<line x1="745.41" y1="485.19" x2="750.59" y2="480.01" stroke="#262626" stroke-width="1"/>
<circle cx="755.6" cy="482.6" r="2.4" fill="#262626"/>
<polyline points="755.6,482.6 770.3,482.6 786,491.1" fill="none" stroke="#262626" stroke-width="1.3"/>
<line x1="786.5" y1="482.6" x2="801.4" y2="482.6" stroke="#262626" stroke-width="1.3"/>
<text transform="translate(736.8,482.6) rotate(-90)" x="0" y="4.32" font-size="12" text-anchor="middle" textLength="6.4" lengthAdjust="spacingAndGlyphs" fill="#262626">5</text>
<circle cx="748" cy="497.82" r="3.7" fill="none" stroke="#262626" stroke-width="1.25"/>
<line x1="745.41" y1="495.23" x2="750.59" y2="500.41" stroke="#262626" stroke-width="1"/>
<line x1="745.41" y1="500.41" x2="750.59" y2="495.23" stroke="#262626" stroke-width="1"/>
<circle cx="755.6" cy="497.82" r="2.4" fill="#262626"/>
<polyline points="755.6,497.82 770.3,497.82 786,506.32" fill="none" stroke="#262626" stroke-width="1.3"/>
<line x1="786.5" y1="497.82" x2="801.4" y2="497.82" stroke="#262626" stroke-width="1.3"/>
<text transform="translate(736.8,497.82) rotate(-90)" x="0" y="4.32" font-size="12" text-anchor="middle" textLength="6.4" lengthAdjust="spacingAndGlyphs" fill="#262626">4</text>
<circle cx="748" cy="513.04" r="3.7" fill="none" stroke="#262626" stroke-width="1.25"/>
<line x1="745.41" y1="510.45" x2="750.59" y2="515.63" stroke="#262626" stroke-width="1"/>
<line x1="745.41" y1="515.63" x2="750.59" y2="510.45" stroke="#262626" stroke-width="1"/>
<circle cx="755.6" cy="513.04" r="2.4" fill="#262626"/>
<polyline points="755.6,513.04 770.3,513.04 786,521.54" fill="none" stroke="#262626" stroke-width="1.3"/>
<line x1="786.5" y1="513.04" x2="801.4" y2="513.04" stroke="#262626" stroke-width="1.3"/>
<text transform="translate(736.8,513.04) rotate(-90)" x="0" y="4.32" font-size="12" text-anchor="middle" textLength="6.4" lengthAdjust="spacingAndGlyphs" fill="#262626">3</text>
<circle cx="748" cy="528.26" r="3.7" fill="none" stroke="#262626" stroke-width="1.25"/>
<line x1="745.41" y1="525.67" x2="750.59" y2="530.85" stroke="#262626" stroke-width="1"/>
<line x1="745.41" y1="530.85" x2="750.59" y2="525.67" stroke="#262626" stroke-width="1"/>
<circle cx="755.6" cy="528.26" r="2.4" fill="#262626"/>
<polyline points="755.6,528.26 770.3,528.26 786,536.76" fill="none" stroke="#262626" stroke-width="1.3"/>
<line x1="786.5" y1="528.26" x2="801.4" y2="528.26" stroke="#262626" stroke-width="1.3"/>
<text transform="translate(736.8,528.26) rotate(-90)" x="0" y="4.32" font-size="12" text-anchor="middle" textLength="6.4" lengthAdjust="spacingAndGlyphs" fill="#262626">2</text>
<circle cx="748" cy="543.48" r="3.7" fill="none" stroke="#262626" stroke-width="1.25"/>
<line x1="745.41" y1="540.89" x2="750.59" y2="546.07" stroke="#262626" stroke-width="1"/>
<line x1="745.41" y1="546.07" x2="750.59" y2="540.89" stroke="#262626" stroke-width="1"/>
<polyline points="755.6,543.48 770.3,543.48 786,551.98" fill="none" stroke="#262626" stroke-width="1.3"/>
<line x1="786.5" y1="543.48" x2="801.4" y2="543.48" stroke="#262626" stroke-width="1.3"/>
<text transform="translate(736.8,543.48) rotate(-90)" x="0" y="4.32" font-size="12" text-anchor="middle" textLength="6.4" lengthAdjust="spacingAndGlyphs" fill="#262626">1</text>
<line x1="801.4" y1="345.62" x2="823.6" y2="345.62" stroke="#262626" stroke-width="1.3"/>
<line x1="801.4" y1="360.84" x2="823.6" y2="360.84" stroke="#262626" stroke-width="1.3"/>
<text x="806.9" y="342.7" font-size="11" textLength="17" lengthAdjust="spacingAndGlyphs" fill="#262626">SIG</text>
<text x="806.9" y="357.72" font-size="11" textLength="22" lengthAdjust="spacingAndGlyphs" fill="#262626">FAN</text>
<text x="804.6" y="555.68" font-size="11" textLength="11" lengthAdjust="spacingAndGlyphs" fill="#262626">N-</text>
<text x="804.6" y="570.9" font-size="11" textLength="13.5" lengthAdjust="spacingAndGlyphs" fill="#262626">RP</text>
<text x="804.6" y="586.12" font-size="11" textLength="14.5" lengthAdjust="spacingAndGlyphs" fill="#262626">P+</text>
<text x="804.6" y="601.34" font-size="11" textLength="22.5" lengthAdjust="spacingAndGlyphs" fill="#262626">GND</text>
<text x="804.6" y="616.56" font-size="11" textLength="12.5" lengthAdjust="spacingAndGlyphs" fill="#262626">T1</text>
<text x="804.6" y="631.78" font-size="11" textLength="13" lengthAdjust="spacingAndGlyphs" fill="#262626">T2</text>
<line x1="801.4" y1="558.8" x2="823.2" y2="558.8" stroke="#262626" stroke-width="1.3"/>
<line x1="801.4" y1="589.2" x2="823.2" y2="589.2" stroke="#262626" stroke-width="1.3"/>
<line x1="801.4" y1="574" x2="823.2" y2="574" stroke="#262626" stroke-width="1.3"/>
<polyline points="823.2,558.8 839.4,589.2 854.7,558.8 870,589.2 884.6,589.2" fill="none" stroke="#262626" stroke-width="1.2"/>
<polyline points="823.2,589.2 839.4,558.8 854.7,589.2 870,558.8 884.6,558.8" fill="none" stroke="#262626" stroke-width="1.2"/>
<path d="M884.5,551.3 L900.8,551.3 A6.7,23 0 0 1 900.8,597.3 L884.5,597.3" fill="none" stroke="#262626" stroke-width="1.2"/>
<ellipse cx="884.5" cy="574.3" rx="7.3" ry="23" fill="none" stroke="#262626" stroke-width="1.2"/>
<polyline points="801.4,604.4 892.4,604.4 892.4,597.3" fill="none" stroke="#262626" stroke-width="1.3"/>
<circle cx="839" cy="604.4" r="1.8" fill="#262626"/>
<line x1="839" y1="604.4" x2="839" y2="612" stroke="#262626" stroke-width="1.2"/>
<polygon points="831,612 847,612 839,619.5" fill="none" stroke="#262626" stroke-width="1.2"/>
<line x1="801.4" y1="619.58" x2="823.7" y2="619.58" stroke="#262626" stroke-width="1.3"/>
<line x1="801.4" y1="634.8" x2="823.7" y2="634.8" stroke="#262626" stroke-width="1.3"/>
<text x="829.3" y="632.6" font-size="14.3" textLength="71" lengthAdjust="spacingAndGlyphs" fill="#262626">Thermistor</text>
<text x="912.8" y="562.4" font-size="11" textLength="32" lengthAdjust="spacingAndGlyphs" fill="#262626">RS485</text>
<text x="912.8" y="578.6" font-size="11" textLength="44.5" lengthAdjust="spacingAndGlyphs" fill="#262626">Modbus</text>
<text x="912.8" y="594" font-size="11" textLength="24.7" lengthAdjust="spacingAndGlyphs" fill="#262626">-RTU</text>
<polygon points="706.6,555.3 714.5,547.5 714.5,563.4" fill="none" stroke="#262626" stroke-width="1.2"/>
<polyline points="714.5,549.4 725.4,549.4 725.4,566.2 709.7,566.2 709.7,589.2 736,589.2" fill="none" stroke="#262626" stroke-width="1.3"/>
<polyline points="714.5,561.2 722.4,561.2 722.4,589.2" fill="none" stroke="#262626" stroke-width="1.3"/>
<polygon points="706.9,570.2 714.5,577.9 706.9,586" fill="none" stroke="#262626" stroke-width="1.2"/>
<line x1="725.4" y1="559" x2="736" y2="559" stroke="#262626" stroke-width="1.3"/>
<path d="M736,559 a8,3.78 0 0 1 0,7.55 a8,3.78 0 0 1 0,7.55 a8,3.78 0 0 1 0,7.55 a8,3.78 0 0 1 0,7.55" fill="none" stroke="#262626" stroke-width="1.3"/>
<path d="M755.6,559 a8,3.78 0 0 0 0,7.55 a8,3.78 0 0 0 0,7.55 a8,3.78 0 0 0 0,7.55 a8,3.78 0 0 0 0,7.55" fill="none" stroke="#262626" stroke-width="1.3"/>
<line x1="736" y1="566.55" x2="738.5" y2="566.55" stroke="#262626" stroke-width="1.1"/>
<line x1="753" y1="566.55" x2="755.6" y2="566.55" stroke="#262626" stroke-width="1.1"/>
<line x1="736" y1="574.1" x2="738.5" y2="574.1" stroke="#262626" stroke-width="1.1"/>
<line x1="753" y1="574.1" x2="755.6" y2="574.1" stroke="#262626" stroke-width="1.1"/>
<line x1="736" y1="581.65" x2="738.5" y2="581.65" stroke="#262626" stroke-width="1.1"/>
<line x1="753" y1="581.65" x2="755.6" y2="581.65" stroke="#262626" stroke-width="1.1"/>
<line x1="755.6" y1="559" x2="801.4" y2="559" stroke="#262626" stroke-width="1.3"/>
<line x1="755.6" y1="589.2" x2="801.4" y2="589.2" stroke="#262626" stroke-width="1.3"/>
<circle cx="763" cy="559" r="2.3" fill="#262626"/>
<polyline points="763,559 763,574 775.5,574" fill="none" stroke="#262626" stroke-width="1.3"/>
<polyline points="775.5,574 777.12,571.4 778.75,576.6 780.38,571.4 782,576.6 783.62,571.4 785.25,576.6 786.88,571.4 788.5,574" fill="none" stroke="#262626" stroke-width="1.1"/>
<line x1="788.5" y1="574" x2="801.4" y2="574" stroke="#262626" stroke-width="1.3"/>
</g>
</svg>
</body></html>
